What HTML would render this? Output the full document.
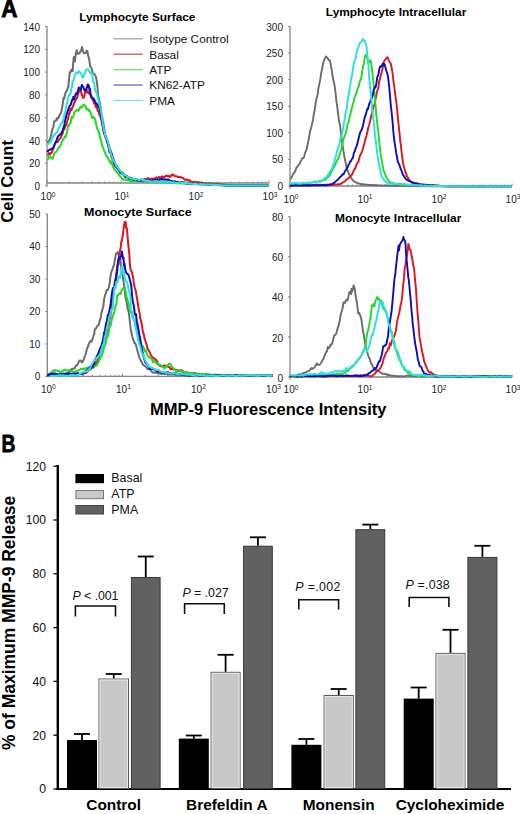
<!DOCTYPE html>
<html><head><meta charset="utf-8"><style>
html,body{margin:0;padding:0;background:#fff;}
svg{display:block;font-family:"Liberation Sans", sans-serif;}
</style></head><body>
<svg width="520" height="814" viewBox="0 0 520 814">
<rect width="520" height="814" fill="#fff"/>
<text x="1.30" y="16.7" font-size="24.0" font-weight="bold" fill="#000" textLength="16.25" lengthAdjust="spacingAndGlyphs" stroke="#000" stroke-width="0.8">A</text>
<text x="79.20" y="20.6" font-size="11.6" font-weight="bold" fill="#000" textLength="116.30" lengthAdjust="spacingAndGlyphs" >Lymphocyte Surface</text>
<text x="325.80" y="16.2" font-size="11.6" font-weight="bold" fill="#000" textLength="140.50" lengthAdjust="spacingAndGlyphs" >Lymphocyte Intracellular</text>
<text x="84.00" y="215.6" font-size="11.6" font-weight="bold" fill="#000" textLength="107.68" lengthAdjust="spacingAndGlyphs" >Monocyte Surface</text>
<text x="335.00" y="222.4" font-size="11.6" font-weight="bold" fill="#000" textLength="126.29" lengthAdjust="spacingAndGlyphs" >Monocyte Intracellular</text>
<text x="0" y="0" font-size="16.6" font-weight="bold" fill="#000" textLength="82.59" lengthAdjust="spacingAndGlyphs" transform="translate(12.6,222.70) rotate(-90)">Cell Count</text>
<text x="150.00" y="415" font-size="16.4" font-weight="bold" fill="#000" textLength="236.54" lengthAdjust="spacingAndGlyphs" >MMP-9 Fluorescence Intensity</text>
<line x1="47" y1="26.5" x2="47" y2="186.5" stroke="#858585" stroke-width="1.3"/>
<line x1="47" y1="183" x2="269" y2="183" stroke="#858585" stroke-width="1.3"/>
<line x1="45" y1="186.0" x2="47" y2="186.0" stroke="#858585" stroke-width="1"/>
<text x="40" y="190.1" font-size="10" text-anchor="end" fill="#222" >0</text>
<line x1="45" y1="163.21428571428572" x2="47" y2="163.21428571428572" stroke="#858585" stroke-width="1"/>
<text x="40" y="167.31" font-size="10" text-anchor="end" fill="#222" >20</text>
<line x1="45" y1="140.42857142857144" x2="47" y2="140.42857142857144" stroke="#858585" stroke-width="1"/>
<text x="40" y="144.53" font-size="10" text-anchor="end" fill="#222" >40</text>
<line x1="45" y1="117.64285714285714" x2="47" y2="117.64285714285714" stroke="#858585" stroke-width="1"/>
<text x="40" y="121.74" font-size="10" text-anchor="end" fill="#222" >60</text>
<line x1="45" y1="94.85714285714286" x2="47" y2="94.85714285714286" stroke="#858585" stroke-width="1"/>
<text x="40" y="98.96" font-size="10" text-anchor="end" fill="#222" >80</text>
<line x1="45" y1="72.07142857142857" x2="47" y2="72.07142857142857" stroke="#858585" stroke-width="1"/>
<text x="40" y="76.17" font-size="10" text-anchor="end" fill="#222" >100</text>
<line x1="45" y1="49.28571428571428" x2="47" y2="49.28571428571428" stroke="#858585" stroke-width="1"/>
<text x="40" y="53.39" font-size="10" text-anchor="end" fill="#222" >120</text>
<line x1="45" y1="26.5" x2="47" y2="26.5" stroke="#858585" stroke-width="1"/>
<text x="40" y="30.6" font-size="10" text-anchor="end" fill="#222" >140</text>
<line x1="47.0" y1="183" x2="47.0" y2="180.5" stroke="#858585" stroke-width="1"/>
<text x="40.6" y="199.9" font-size="10" fill="#222">10<tspan font-size="6.6" dy="-3.3">0</tspan></text>
<line x1="69.27621967913461" y1="183" x2="69.27621967913461" y2="181.5" stroke="#858585" stroke-width="1"/>
<line x1="82.30697284925502" y1="183" x2="82.30697284925502" y2="181.5" stroke="#858585" stroke-width="1"/>
<line x1="91.55243935826923" y1="183" x2="91.55243935826923" y2="181.5" stroke="#858585" stroke-width="1"/>
<line x1="98.72378032086539" y1="183" x2="98.72378032086539" y2="181.5" stroke="#858585" stroke-width="1"/>
<line x1="104.58319252838963" y1="183" x2="104.58319252838963" y2="181.5" stroke="#858585" stroke-width="1"/>
<line x1="109.537254961055" y1="183" x2="109.537254961055" y2="181.5" stroke="#858585" stroke-width="1"/>
<line x1="113.82865903740382" y1="183" x2="113.82865903740382" y2="181.5" stroke="#858585" stroke-width="1"/>
<line x1="117.61394569851004" y1="183" x2="117.61394569851004" y2="181.5" stroke="#858585" stroke-width="1"/>
<line x1="121.0" y1="183" x2="121.0" y2="180.5" stroke="#858585" stroke-width="1"/>
<text x="114.6" y="199.9" font-size="10" fill="#222">10<tspan font-size="6.6" dy="-3.3">1</tspan></text>
<line x1="143.2762196791346" y1="183" x2="143.2762196791346" y2="181.5" stroke="#858585" stroke-width="1"/>
<line x1="156.30697284925503" y1="183" x2="156.30697284925503" y2="181.5" stroke="#858585" stroke-width="1"/>
<line x1="165.55243935826923" y1="183" x2="165.55243935826923" y2="181.5" stroke="#858585" stroke-width="1"/>
<line x1="172.7237803208654" y1="183" x2="172.7237803208654" y2="181.5" stroke="#858585" stroke-width="1"/>
<line x1="178.58319252838965" y1="183" x2="178.58319252838965" y2="181.5" stroke="#858585" stroke-width="1"/>
<line x1="183.537254961055" y1="183" x2="183.537254961055" y2="181.5" stroke="#858585" stroke-width="1"/>
<line x1="187.82865903740384" y1="183" x2="187.82865903740384" y2="181.5" stroke="#858585" stroke-width="1"/>
<line x1="191.61394569851004" y1="183" x2="191.61394569851004" y2="181.5" stroke="#858585" stroke-width="1"/>
<line x1="195.0" y1="183" x2="195.0" y2="180.5" stroke="#858585" stroke-width="1"/>
<text x="188.6" y="199.9" font-size="10" fill="#222">10<tspan font-size="6.6" dy="-3.3">2</tspan></text>
<line x1="217.2762196791346" y1="183" x2="217.2762196791346" y2="181.5" stroke="#858585" stroke-width="1"/>
<line x1="230.30697284925503" y1="183" x2="230.30697284925503" y2="181.5" stroke="#858585" stroke-width="1"/>
<line x1="239.55243935826923" y1="183" x2="239.55243935826923" y2="181.5" stroke="#858585" stroke-width="1"/>
<line x1="246.7237803208654" y1="183" x2="246.7237803208654" y2="181.5" stroke="#858585" stroke-width="1"/>
<line x1="252.58319252838965" y1="183" x2="252.58319252838965" y2="181.5" stroke="#858585" stroke-width="1"/>
<line x1="257.537254961055" y1="183" x2="257.537254961055" y2="181.5" stroke="#858585" stroke-width="1"/>
<line x1="261.82865903740384" y1="183" x2="261.82865903740384" y2="181.5" stroke="#858585" stroke-width="1"/>
<line x1="265.61394569851007" y1="183" x2="265.61394569851007" y2="181.5" stroke="#858585" stroke-width="1"/>
<line x1="269.0" y1="183" x2="269.0" y2="180.5" stroke="#858585" stroke-width="1"/>
<text x="262.6" y="199.9" font-size="10" fill="#222">10<tspan font-size="6.6" dy="-3.3">3</tspan></text>
<line x1="290" y1="26.5" x2="290" y2="188.7" stroke="#858585" stroke-width="1.3"/>
<line x1="290" y1="186" x2="512" y2="186" stroke="#858585" stroke-width="1.3"/>
<line x1="288" y1="186.0" x2="290" y2="186.0" stroke="#858585" stroke-width="1"/>
<text x="283" y="190.0" font-size="10" text-anchor="end" fill="#222" >0</text>
<line x1="288" y1="159.41666666666666" x2="290" y2="159.41666666666666" stroke="#858585" stroke-width="1"/>
<text x="283" y="163.42" font-size="10" text-anchor="end" fill="#222" >50</text>
<line x1="288" y1="132.83333333333334" x2="290" y2="132.83333333333334" stroke="#858585" stroke-width="1"/>
<text x="283" y="136.83" font-size="10" text-anchor="end" fill="#222" >100</text>
<line x1="288" y1="106.25" x2="290" y2="106.25" stroke="#858585" stroke-width="1"/>
<text x="283" y="110.25" font-size="10" text-anchor="end" fill="#222" >150</text>
<line x1="288" y1="79.66666666666667" x2="290" y2="79.66666666666667" stroke="#858585" stroke-width="1"/>
<text x="283" y="83.67" font-size="10" text-anchor="end" fill="#222" >200</text>
<line x1="288" y1="53.08333333333334" x2="290" y2="53.08333333333334" stroke="#858585" stroke-width="1"/>
<text x="283" y="57.08" font-size="10" text-anchor="end" fill="#222" >250</text>
<line x1="288" y1="26.5" x2="290" y2="26.5" stroke="#858585" stroke-width="1"/>
<text x="283" y="30.5" font-size="10" text-anchor="end" fill="#222" >300</text>
<line x1="290.0" y1="186" x2="290.0" y2="183.5" stroke="#858585" stroke-width="1"/>
<text x="283.6" y="202.5" font-size="10" fill="#222">10<tspan font-size="6.6" dy="-3.3">0</tspan></text>
<line x1="312.2762196791346" y1="186" x2="312.2762196791346" y2="184.5" stroke="#858585" stroke-width="1"/>
<line x1="325.30697284925503" y1="186" x2="325.30697284925503" y2="184.5" stroke="#858585" stroke-width="1"/>
<line x1="334.5524393582692" y1="186" x2="334.5524393582692" y2="184.5" stroke="#858585" stroke-width="1"/>
<line x1="341.7237803208654" y1="186" x2="341.7237803208654" y2="184.5" stroke="#858585" stroke-width="1"/>
<line x1="347.58319252838965" y1="186" x2="347.58319252838965" y2="184.5" stroke="#858585" stroke-width="1"/>
<line x1="352.537254961055" y1="186" x2="352.537254961055" y2="184.5" stroke="#858585" stroke-width="1"/>
<line x1="356.82865903740384" y1="186" x2="356.82865903740384" y2="184.5" stroke="#858585" stroke-width="1"/>
<line x1="360.61394569851007" y1="186" x2="360.61394569851007" y2="184.5" stroke="#858585" stroke-width="1"/>
<line x1="364.0" y1="186" x2="364.0" y2="183.5" stroke="#858585" stroke-width="1"/>
<text x="357.6" y="202.5" font-size="10" fill="#222">10<tspan font-size="6.6" dy="-3.3">1</tspan></text>
<line x1="386.2762196791346" y1="186" x2="386.2762196791346" y2="184.5" stroke="#858585" stroke-width="1"/>
<line x1="399.30697284925503" y1="186" x2="399.30697284925503" y2="184.5" stroke="#858585" stroke-width="1"/>
<line x1="408.5524393582692" y1="186" x2="408.5524393582692" y2="184.5" stroke="#858585" stroke-width="1"/>
<line x1="415.7237803208654" y1="186" x2="415.7237803208654" y2="184.5" stroke="#858585" stroke-width="1"/>
<line x1="421.58319252838965" y1="186" x2="421.58319252838965" y2="184.5" stroke="#858585" stroke-width="1"/>
<line x1="426.537254961055" y1="186" x2="426.537254961055" y2="184.5" stroke="#858585" stroke-width="1"/>
<line x1="430.82865903740384" y1="186" x2="430.82865903740384" y2="184.5" stroke="#858585" stroke-width="1"/>
<line x1="434.61394569851007" y1="186" x2="434.61394569851007" y2="184.5" stroke="#858585" stroke-width="1"/>
<line x1="438.0" y1="186" x2="438.0" y2="183.5" stroke="#858585" stroke-width="1"/>
<text x="431.6" y="202.5" font-size="10" fill="#222">10<tspan font-size="6.6" dy="-3.3">2</tspan></text>
<line x1="460.2762196791346" y1="186" x2="460.2762196791346" y2="184.5" stroke="#858585" stroke-width="1"/>
<line x1="473.30697284925503" y1="186" x2="473.30697284925503" y2="184.5" stroke="#858585" stroke-width="1"/>
<line x1="482.5524393582692" y1="186" x2="482.5524393582692" y2="184.5" stroke="#858585" stroke-width="1"/>
<line x1="489.7237803208654" y1="186" x2="489.7237803208654" y2="184.5" stroke="#858585" stroke-width="1"/>
<line x1="495.58319252838965" y1="186" x2="495.58319252838965" y2="184.5" stroke="#858585" stroke-width="1"/>
<line x1="500.537254961055" y1="186" x2="500.537254961055" y2="184.5" stroke="#858585" stroke-width="1"/>
<line x1="504.82865903740384" y1="186" x2="504.82865903740384" y2="184.5" stroke="#858585" stroke-width="1"/>
<line x1="508.61394569851007" y1="186" x2="508.61394569851007" y2="184.5" stroke="#858585" stroke-width="1"/>
<line x1="512.0" y1="186" x2="512.0" y2="183.5" stroke="#858585" stroke-width="1"/>
<text x="505.6" y="202.5" font-size="10" fill="#222">10<tspan font-size="6.6" dy="-3.3">3</tspan></text>
<line x1="47.3" y1="214" x2="47.3" y2="377.0" stroke="#858585" stroke-width="1.3"/>
<line x1="47.3" y1="376.3" x2="272.5" y2="376.3" stroke="#858585" stroke-width="1.3"/>
<line x1="45.3" y1="376.5" x2="47.3" y2="376.5" stroke="#858585" stroke-width="1"/>
<text x="40.3" y="380.4" font-size="10" text-anchor="end" fill="#222" >0</text>
<line x1="45.3" y1="344.0" x2="47.3" y2="344.0" stroke="#858585" stroke-width="1"/>
<text x="40.3" y="347.9" font-size="10" text-anchor="end" fill="#222" >10</text>
<line x1="45.3" y1="311.5" x2="47.3" y2="311.5" stroke="#858585" stroke-width="1"/>
<text x="40.3" y="315.4" font-size="10" text-anchor="end" fill="#222" >20</text>
<line x1="45.3" y1="279.0" x2="47.3" y2="279.0" stroke="#858585" stroke-width="1"/>
<text x="40.3" y="282.9" font-size="10" text-anchor="end" fill="#222" >30</text>
<line x1="45.3" y1="246.5" x2="47.3" y2="246.5" stroke="#858585" stroke-width="1"/>
<text x="40.3" y="250.4" font-size="10" text-anchor="end" fill="#222" >40</text>
<line x1="45.3" y1="214.0" x2="47.3" y2="214.0" stroke="#858585" stroke-width="1"/>
<text x="40.3" y="217.9" font-size="10" text-anchor="end" fill="#222" >50</text>
<line x1="47.3" y1="376.3" x2="47.3" y2="373.8" stroke="#858585" stroke-width="1"/>
<text x="40.9" y="392.5" font-size="10" fill="#222">10<tspan font-size="6.6" dy="-3.3">0</tspan></text>
<line x1="69.89731834117619" y1="376.3" x2="69.89731834117619" y2="374.8" stroke="#858585" stroke-width="1"/>
<line x1="83.11590218762265" y1="376.3" x2="83.11590218762265" y2="374.8" stroke="#858585" stroke-width="1"/>
<line x1="92.49463668235236" y1="376.3" x2="92.49463668235236" y2="374.8" stroke="#858585" stroke-width="1"/>
<line x1="99.76934832549048" y1="376.3" x2="99.76934832549048" y2="374.8" stroke="#858585" stroke-width="1"/>
<line x1="105.71322052879884" y1="376.3" x2="105.71322052879884" y2="374.8" stroke="#858585" stroke-width="1"/>
<line x1="110.73869287040354" y1="376.3" x2="110.73869287040354" y2="374.8" stroke="#858585" stroke-width="1"/>
<line x1="115.09195502352856" y1="376.3" x2="115.09195502352856" y2="374.8" stroke="#858585" stroke-width="1"/>
<line x1="118.93180437524532" y1="376.3" x2="118.93180437524532" y2="374.8" stroke="#858585" stroke-width="1"/>
<line x1="122.36666666666666" y1="376.3" x2="122.36666666666666" y2="373.8" stroke="#858585" stroke-width="1"/>
<text x="116.0" y="392.5" font-size="10" fill="#222">10<tspan font-size="6.6" dy="-3.3">1</tspan></text>
<line x1="144.96398500784284" y1="376.3" x2="144.96398500784284" y2="374.8" stroke="#858585" stroke-width="1"/>
<line x1="158.18256885428931" y1="376.3" x2="158.18256885428931" y2="374.8" stroke="#858585" stroke-width="1"/>
<line x1="167.56130334901903" y1="376.3" x2="167.56130334901903" y2="374.8" stroke="#858585" stroke-width="1"/>
<line x1="174.83601499215715" y1="376.3" x2="174.83601499215715" y2="374.8" stroke="#858585" stroke-width="1"/>
<line x1="180.7798871954655" y1="376.3" x2="180.7798871954655" y2="374.8" stroke="#858585" stroke-width="1"/>
<line x1="185.80535953707022" y1="376.3" x2="185.80535953707022" y2="374.8" stroke="#858585" stroke-width="1"/>
<line x1="190.15862169019522" y1="376.3" x2="190.15862169019522" y2="374.8" stroke="#858585" stroke-width="1"/>
<line x1="193.99847104191198" y1="376.3" x2="193.99847104191198" y2="374.8" stroke="#858585" stroke-width="1"/>
<line x1="197.43333333333334" y1="376.3" x2="197.43333333333334" y2="373.8" stroke="#858585" stroke-width="1"/>
<text x="191.0" y="392.5" font-size="10" fill="#222">10<tspan font-size="6.6" dy="-3.3">2</tspan></text>
<line x1="220.03065167450953" y1="376.3" x2="220.03065167450953" y2="374.8" stroke="#858585" stroke-width="1"/>
<line x1="233.249235520956" y1="376.3" x2="233.249235520956" y2="374.8" stroke="#858585" stroke-width="1"/>
<line x1="242.62797001568572" y1="376.3" x2="242.62797001568572" y2="374.8" stroke="#858585" stroke-width="1"/>
<line x1="249.9026816588238" y1="376.3" x2="249.9026816588238" y2="374.8" stroke="#858585" stroke-width="1"/>
<line x1="255.84655386213217" y1="376.3" x2="255.84655386213217" y2="374.8" stroke="#858585" stroke-width="1"/>
<line x1="260.8720262037369" y1="376.3" x2="260.8720262037369" y2="374.8" stroke="#858585" stroke-width="1"/>
<line x1="265.2252883568619" y1="376.3" x2="265.2252883568619" y2="374.8" stroke="#858585" stroke-width="1"/>
<line x1="269.0651377085787" y1="376.3" x2="269.0651377085787" y2="374.8" stroke="#858585" stroke-width="1"/>
<line x1="272.5" y1="376.3" x2="272.5" y2="373.8" stroke="#858585" stroke-width="1"/>
<text x="266.1" y="392.5" font-size="10" fill="#222">10<tspan font-size="6.6" dy="-3.3">3</tspan></text>
<line x1="290" y1="216.7" x2="290" y2="379.4" stroke="#858585" stroke-width="1.3"/>
<line x1="290" y1="377" x2="512" y2="377" stroke="#858585" stroke-width="1.3"/>
<line x1="288" y1="377.0" x2="290" y2="377.0" stroke="#858585" stroke-width="1"/>
<text x="283" y="381.6" font-size="10" text-anchor="end" fill="#222" >0</text>
<line x1="288" y1="336.925" x2="290" y2="336.925" stroke="#858585" stroke-width="1"/>
<text x="283" y="341.53" font-size="10" text-anchor="end" fill="#222" >20</text>
<line x1="288" y1="296.85" x2="290" y2="296.85" stroke="#858585" stroke-width="1"/>
<text x="283" y="301.45" font-size="10" text-anchor="end" fill="#222" >40</text>
<line x1="288" y1="256.775" x2="290" y2="256.775" stroke="#858585" stroke-width="1"/>
<text x="283" y="261.38" font-size="10" text-anchor="end" fill="#222" >60</text>
<line x1="288" y1="216.7" x2="290" y2="216.7" stroke="#858585" stroke-width="1"/>
<text x="283" y="221.3" font-size="10" text-anchor="end" fill="#222" >80</text>
<line x1="290.0" y1="377" x2="290.0" y2="374.5" stroke="#858585" stroke-width="1"/>
<text x="283.6" y="393.3" font-size="10" fill="#222">10<tspan font-size="6.6" dy="-3.3">0</tspan></text>
<line x1="312.2762196791346" y1="377" x2="312.2762196791346" y2="375.5" stroke="#858585" stroke-width="1"/>
<line x1="325.30697284925503" y1="377" x2="325.30697284925503" y2="375.5" stroke="#858585" stroke-width="1"/>
<line x1="334.5524393582692" y1="377" x2="334.5524393582692" y2="375.5" stroke="#858585" stroke-width="1"/>
<line x1="341.7237803208654" y1="377" x2="341.7237803208654" y2="375.5" stroke="#858585" stroke-width="1"/>
<line x1="347.58319252838965" y1="377" x2="347.58319252838965" y2="375.5" stroke="#858585" stroke-width="1"/>
<line x1="352.537254961055" y1="377" x2="352.537254961055" y2="375.5" stroke="#858585" stroke-width="1"/>
<line x1="356.82865903740384" y1="377" x2="356.82865903740384" y2="375.5" stroke="#858585" stroke-width="1"/>
<line x1="360.61394569851007" y1="377" x2="360.61394569851007" y2="375.5" stroke="#858585" stroke-width="1"/>
<line x1="364.0" y1="377" x2="364.0" y2="374.5" stroke="#858585" stroke-width="1"/>
<text x="357.6" y="393.3" font-size="10" fill="#222">10<tspan font-size="6.6" dy="-3.3">1</tspan></text>
<line x1="386.2762196791346" y1="377" x2="386.2762196791346" y2="375.5" stroke="#858585" stroke-width="1"/>
<line x1="399.30697284925503" y1="377" x2="399.30697284925503" y2="375.5" stroke="#858585" stroke-width="1"/>
<line x1="408.5524393582692" y1="377" x2="408.5524393582692" y2="375.5" stroke="#858585" stroke-width="1"/>
<line x1="415.7237803208654" y1="377" x2="415.7237803208654" y2="375.5" stroke="#858585" stroke-width="1"/>
<line x1="421.58319252838965" y1="377" x2="421.58319252838965" y2="375.5" stroke="#858585" stroke-width="1"/>
<line x1="426.537254961055" y1="377" x2="426.537254961055" y2="375.5" stroke="#858585" stroke-width="1"/>
<line x1="430.82865903740384" y1="377" x2="430.82865903740384" y2="375.5" stroke="#858585" stroke-width="1"/>
<line x1="434.61394569851007" y1="377" x2="434.61394569851007" y2="375.5" stroke="#858585" stroke-width="1"/>
<line x1="438.0" y1="377" x2="438.0" y2="374.5" stroke="#858585" stroke-width="1"/>
<text x="431.6" y="393.3" font-size="10" fill="#222">10<tspan font-size="6.6" dy="-3.3">2</tspan></text>
<line x1="460.2762196791346" y1="377" x2="460.2762196791346" y2="375.5" stroke="#858585" stroke-width="1"/>
<line x1="473.30697284925503" y1="377" x2="473.30697284925503" y2="375.5" stroke="#858585" stroke-width="1"/>
<line x1="482.5524393582692" y1="377" x2="482.5524393582692" y2="375.5" stroke="#858585" stroke-width="1"/>
<line x1="489.7237803208654" y1="377" x2="489.7237803208654" y2="375.5" stroke="#858585" stroke-width="1"/>
<line x1="495.58319252838965" y1="377" x2="495.58319252838965" y2="375.5" stroke="#858585" stroke-width="1"/>
<line x1="500.537254961055" y1="377" x2="500.537254961055" y2="375.5" stroke="#858585" stroke-width="1"/>
<line x1="504.82865903740384" y1="377" x2="504.82865903740384" y2="375.5" stroke="#858585" stroke-width="1"/>
<line x1="508.61394569851007" y1="377" x2="508.61394569851007" y2="375.5" stroke="#858585" stroke-width="1"/>
<line x1="512.0" y1="377" x2="512.0" y2="374.5" stroke="#858585" stroke-width="1"/>
<text x="505.6" y="393.3" font-size="10" fill="#222">10<tspan font-size="6.6" dy="-3.3">3</tspan></text>
<line x1="113.5" y1="38.8" x2="142.6" y2="38.8" stroke="#9a9a9a" stroke-width="1.2"/>
<text x="149.3" y="43.099999999999994" font-size="11.8" text-anchor="start" fill="#111" >Isotype Control</text>
<line x1="113.5" y1="54.2" x2="142.6" y2="54.2" stroke="#d04452" stroke-width="1.2"/>
<text x="149.3" y="58.5" font-size="11.8" text-anchor="start" fill="#111" >Basal</text>
<line x1="113.5" y1="69.7" x2="142.6" y2="69.7" stroke="#6fd36f" stroke-width="1.2"/>
<text x="149.3" y="74.0" font-size="11.8" text-anchor="start" fill="#111" >ATP</text>
<line x1="113.5" y1="85.0" x2="142.6" y2="85.0" stroke="#5a5ad6" stroke-width="1.2"/>
<text x="149.3" y="89.3" font-size="11.8" text-anchor="start" fill="#111" >KN62-ATP</text>
<line x1="113.5" y1="100.5" x2="142.6" y2="100.5" stroke="#7fdede" stroke-width="1.2"/>
<text x="149.3" y="104.8" font-size="11.8" text-anchor="start" fill="#111" >PMA</text>
<path d="M47.0,142.6 L47.9,142.3 L48.8,141.1 L49.7,139.6 L50.6,136.8 L51.5,133.3 L52.4,129.3 L53.3,127.3 L54.2,121.3 L55.1,121.2 L56.0,120.4 L56.9,118.2 L57.2,119.7 L57.8,117.8 L58.7,117.6 L59.6,114.9 L60.5,113.6 L61.4,111.3 L62.3,106.7 L63.2,100.5 L63.5,98.1 L64.1,98.7 L65.0,94.4 L65.9,91.9 L66.8,90.9 L67.7,88.2 L68.2,87.7 L68.6,83.9 L69.5,74.7 L69.8,72.2 L70.4,72.7 L71.3,69.8 L72.2,71.0 L72.7,71.1 L73.1,64.2 L73.8,56.9 L74.4,60.1 L74.9,61.5 L75.8,53.5 L76.7,50.3 L77.6,53.7 L78.5,53.8 L79.4,53.3 L80.0,52.4 L81.2,50.1 L82.1,46.9 L83.0,51.8 L83.9,53.2 L84.6,53.1 L85.7,53.2 L86.6,50.6 L87.3,51.0 L88.2,55.7 L89.3,60.1 L90.2,66.5 L91.1,67.2 L92.0,70.1 L92.9,73.6 L93.5,73.4 L94.7,74.4 L95.6,75.9 L96.5,79.6 L97.4,85.8 L98.2,95.5 L99.2,100.2 L100.1,104.4 L100.6,107.3 L101.0,110.2 L101.9,117.6 L102.2,116.6 L102.8,121.6 L103.7,124.8 L104.6,131.4 L105.5,135.8 L106.4,138.0 L107.3,140.1 L107.8,142.0 L108.2,143.3 L109.1,145.6 L110.0,149.5 L110.8,151.0 L111.8,153.5 L112.7,156.7 L113.6,159.4 L114.5,162.0 L115.4,163.8 L116.3,165.7 L117.2,166.2 L118.1,169.0 L119.0,169.6 L119.9,170.6 L120.8,172.4 L121.7,173.6 L122.6,174.1 L123.5,175.1 L124.4,175.6 L125.3,177.6 L126.2,177.0 L127.1,176.3 L128.0,176.8 L128.9,177.6 L129.8,177.6 L130.7,178.7 L131.3,178.9 L132.5,180.1 L133.4,180.3 L134.3,179.2 L135.2,180.0 L136.1,179.6 L137.0,180.5 L137.9,180.4 L138.8,180.5 L139.7,180.0 L140.6,180.7 L141.5,180.7 L142.4,179.8 L143.3,180.2 L144.2,180.2 L145.1,180.6 L146.0,180.5 L146.9,181.4 L147.8,180.7 L148.7,180.8 L149.6,181.0 L150.0,180.6 L150.5,180.7 L151.4,180.6 L152.3,180.8 L153.2,180.6 L154.1,180.9 L155.0,181.1 L155.9,181.2 L156.8,181.3 L157.7,181.2 L158.6,181.4 L159.5,181.2 L160.4,181.4 L161.3,181.3 L162.2,181.4 L163.1,181.3 L164.0,181.8 L164.9,181.4 L165.8,181.6 L166.7,181.8 L167.6,181.8 L168.5,181.6 L169.4,181.3 L170.3,182.0 L171.2,182.1 L172.1,181.8 L173.0,182.3 L173.9,182.1 L174.8,182.0 L175.7,182.2 L176.6,182.2 L177.5,182.2 L178.4,181.7 L179.3,182.4 L180.2,182.0 L181.1,181.9 L182.0,182.6 L182.9,182.3 L183.8,182.4 L184.7,182.2 L185.6,182.4 L186.5,182.6 L187.4,182.5 L188.3,182.7 L189.2,182.3 L190.1,182.2 L191.0,182.5 L191.9,182.8 L192.8,182.8 L193.7,182.7 L194.6,182.9 L195.5,182.4 L196.4,182.5 L197.3,182.7 L198.2,182.4 L199.1,182.8 L200.0,182.9 L200.9,183.2 L201.8,182.9 L202.7,183.0 L203.6,183.3 L204.5,182.9 L205.4,183.8 L206.3,183.2 L207.2,183.2 L208.1,183.4 L209.0,183.3 L209.9,183.1 L210.8,183.6 L211.7,183.8 L212.6,183.7 L213.5,183.9 L214.4,184.0 L215.3,183.8 L216.2,184.1 L217.1,184.1 L218.0,184.1 L218.9,184.2 L219.8,184.4 L220.7,184.4 L221.6,184.6 L222.5,184.5 L223.4,184.5 L224.3,184.6 L225.2,184.7 L226.1,184.8 L227.0,184.9 L227.9,185.1 L228.8,185.0 L229.7,185.0 L230.6,185.1 L231.5,185.1 L232.4,185.2 L233.3,185.2 L234.2,185.3 L235.1,185.3 L236.0,185.4 L236.9,185.4 L237.8,185.5 L238.7,185.5 L239.6,185.5 L240.0,185.5 L240.5,185.5 L241.4,185.5 L242.3,185.6 L243.2,185.6 L244.1,185.6 L245.0,185.6 L245.9,185.6 L246.8,185.6 L247.7,185.6 L248.6,185.6 L249.5,185.6 L250.4,185.6 L251.3,185.6 L252.2,185.6 L253.1,185.6 L254.0,185.6 L254.9,185.6 L255.8,185.6 L256.7,185.6 L257.6,185.6 L258.5,185.6 L259.4,185.6 L260.3,185.6 L261.2,185.6 L262.1,185.6 L263.0,185.6 L263.9,185.6 L264.8,185.6 L265.7,185.6 L266.6,185.6 L267.5,185.6 L268.4,185.6 L269.0,185.6" fill="none" stroke="#6c6c6c" stroke-width="2.0" stroke-linejoin="round"/>
<path d="M47.3,154.1 L48.2,154.5 L49.1,153.0 L50.0,154.4 L50.8,153.0 L51.8,152.7 L52.7,150.1 L53.6,147.7 L54.5,145.0 L55.4,142.7 L56.3,142.2 L57.2,142.2 L58.1,141.4 L59.0,139.3 L59.9,138.8 L60.8,137.4 L61.2,136.8 L61.7,135.2 L62.6,133.8 L63.5,129.5 L64.0,127.7 L64.4,129.2 L65.3,125.2 L66.2,125.4 L67.0,121.5 L68.0,119.2 L68.9,113.1 L69.3,114.6 L69.8,111.9 L70.7,108.5 L71.6,109.9 L72.5,107.5 L73.4,105.4 L74.0,103.0 L75.2,101.1 L76.1,99.0 L77.0,97.9 L77.4,97.0 L77.9,94.0 L78.8,91.8 L79.6,90.7 L80.6,90.5 L81.5,93.4 L82.4,96.3 L83.0,97.9 L84.2,97.1 L85.1,91.7 L86.0,91.0 L86.5,89.4 L86.9,92.6 L87.8,91.2 L88.7,93.4 L89.6,93.2 L90.5,95.2 L91.2,97.6 L92.3,98.8 L93.2,101.2 L93.5,99.7 L94.1,103.5 L95.0,103.0 L95.9,107.3 L96.8,106.7 L97.7,110.9 L98.6,110.9 L99.5,115.4 L100.4,116.3 L101.3,119.9 L102.2,124.5 L103.1,128.6 L103.8,132.0 L104.9,136.0 L105.8,138.5 L106.7,140.4 L107.3,141.2 L108.5,145.4 L109.4,148.9 L110.2,150.5 L111.2,156.1 L112.1,158.5 L113.0,161.2 L113.9,164.2 L114.8,166.2 L115.7,166.9 L116.5,166.8 L117.5,168.1 L118.4,169.3 L119.3,169.8 L120.2,171.6 L121.1,172.3 L122.0,172.1 L122.9,173.9 L123.8,174.5 L124.7,176.4 L125.6,177.0 L126.5,176.7 L127.4,177.1 L128.3,177.9 L129.2,178.3 L130.1,179.3 L130.4,179.1 L131.0,178.9 L131.9,179.4 L132.8,178.7 L133.7,179.6 L134.6,179.8 L135.5,179.6 L136.4,179.6 L137.3,180.1 L138.2,180.6 L139.1,180.1 L140.0,179.7 L140.9,180.3 L141.8,179.4 L142.7,180.1 L143.6,179.8 L144.5,179.9 L145.0,179.1 L145.4,179.6 L146.3,179.0 L147.2,178.4 L148.1,178.2 L149.0,178.7 L149.9,179.1 L150.8,178.7 L151.7,178.7 L152.6,178.6 L153.5,179.0 L154.4,178.7 L155.0,178.4 L156.2,177.4 L157.1,177.9 L158.0,177.8 L158.9,176.8 L159.8,177.9 L160.7,177.3 L161.6,176.8 L162.5,176.3 L163.4,177.2 L164.3,177.2 L165.2,176.4 L166.1,175.5 L167.0,176.3 L167.9,175.8 L168.8,176.0 L169.7,177.1 L170.6,176.4 L171.5,175.4 L172.0,174.5 L172.4,175.1 L173.3,174.5 L174.2,176.1 L175.1,176.2 L176.0,176.2 L176.9,176.3 L177.8,177.1 L178.7,176.9 L179.6,176.8 L180.5,177.4 L181.4,177.3 L182.3,177.7 L183.2,178.0 L184.1,178.9 L185.0,179.7 L185.9,179.5 L186.8,179.9 L187.7,179.6 L188.6,180.2 L189.5,180.5 L190.4,180.8 L191.3,182.0 L192.2,182.1 L193.1,182.0 L194.0,182.1 L194.9,182.3 L195.8,182.0 L196.7,182.5 L197.6,182.2 L198.5,182.5 L199.4,182.5 L200.3,182.7 L201.2,182.6 L202.1,182.8 L203.0,183.1 L203.9,183.3 L204.8,183.4 L205.7,183.4 L206.6,183.8 L207.5,183.7 L208.4,183.6 L209.3,183.9 L210.2,183.7 L211.1,184.1 L212.0,184.1 L212.9,184.0 L213.8,184.3 L214.7,184.3 L215.6,183.9 L216.5,184.2 L217.4,184.3 L218.3,184.2 L219.2,184.4 L220.1,184.4 L221.0,184.6 L221.9,184.8 L222.8,185.0 L223.7,185.0 L224.6,185.1 L225.5,185.1 L226.4,185.2 L227.3,185.2 L228.2,185.3 L229.1,185.4 L230.0,185.5 L230.9,185.5 L231.8,185.5 L232.7,185.5 L233.6,185.5 L234.5,185.6 L235.0,185.6 L235.4,185.6 L236.3,185.6 L237.2,185.6 L238.1,185.6 L239.0,185.6 L239.9,185.6 L240.8,185.6 L241.7,185.6 L242.6,185.6 L243.5,185.6 L244.4,185.6 L245.3,185.6 L246.2,185.6 L247.1,185.6 L248.0,185.6 L248.9,185.6 L249.8,185.6 L250.7,185.6 L251.6,185.6 L252.5,185.6 L253.4,185.6 L254.3,185.6 L255.2,185.6 L256.1,185.6 L257.0,185.6 L257.9,185.6 L258.8,185.6 L259.7,185.6 L260.6,185.6 L261.5,185.6 L262.4,185.6 L263.3,185.6 L264.2,185.6 L265.1,185.6 L266.0,185.6 L266.9,185.6 L267.8,185.6 L268.7,185.6 L269.0,185.6" fill="none" stroke="#e0141e" stroke-width="2.0" stroke-linejoin="round"/>
<path d="M47.3,158.3 L48.2,159.2 L49.1,156.6 L50.0,156.5 L50.9,157.4 L51.8,158.4 L52.7,158.7 L53.6,155.7 L54.5,153.0 L55.4,152.2 L56.3,151.8 L57.2,150.3 L58.1,148.8 L59.0,147.3 L59.9,146.6 L60.8,144.6 L61.2,144.5 L61.7,142.0 L62.6,140.5 L63.5,138.6 L64.4,137.8 L65.3,136.0 L65.8,136.9 L66.2,134.9 L67.1,132.1 L68.0,125.9 L68.7,126.0 L69.8,123.4 L70.7,122.7 L71.6,116.8 L72.5,118.0 L73.4,116.0 L74.3,112.3 L75.1,111.5 L76.1,110.3 L77.0,110.3 L77.9,110.0 L78.5,111.0 L79.7,107.6 L80.6,107.8 L80.9,106.9 L81.5,107.8 L82.4,105.5 L83.0,105.8 L84.2,104.9 L85.1,106.0 L86.0,106.6 L86.5,109.7 L86.9,109.2 L87.8,109.0 L88.7,109.8 L89.0,111.1 L89.6,110.6 L90.5,112.3 L91.2,114.9 L92.3,118.2 L93.2,116.6 L93.5,116.7 L94.1,117.4 L95.0,118.9 L95.8,122.7 L96.8,127.5 L97.7,129.5 L98.6,131.7 L99.2,133.1 L100.4,138.8 L101.3,141.2 L102.2,145.4 L102.7,147.2 L103.1,147.6 L104.0,150.2 L104.9,152.1 L105.8,154.4 L106.2,155.9 L106.7,155.8 L107.6,157.4 L108.5,159.4 L109.4,160.6 L110.3,162.6 L110.8,161.2 L111.2,163.6 L112.1,164.3 L113.0,166.3 L113.9,168.2 L114.8,170.0 L115.4,170.6 L116.6,171.5 L117.5,173.2 L118.4,173.9 L119.3,175.2 L120.0,176.4 L121.1,177.2 L122.0,179.0 L122.9,179.4 L123.8,180.0 L124.6,179.5 L125.6,179.5 L126.5,179.9 L127.4,180.3 L128.3,180.2 L129.2,180.7 L130.1,180.9 L131.0,181.4 L131.5,180.9 L131.9,181.3 L132.8,180.9 L133.7,180.9 L134.6,180.9 L135.5,180.8 L136.4,181.2 L137.3,181.6 L138.2,181.4 L139.1,181.3 L140.0,181.3 L140.9,180.8 L141.8,181.1 L142.7,181.3 L143.6,181.3 L144.5,181.7 L145.0,181.0 L145.4,181.6 L146.3,181.3 L147.2,181.5 L148.1,181.2 L149.0,181.1 L149.9,181.6 L150.8,181.6 L151.7,181.9 L152.6,182.0 L153.5,182.0 L154.4,182.0 L155.3,181.8 L156.2,181.9 L157.1,181.4 L158.0,181.9 L158.9,181.6 L159.8,182.2 L160.7,182.4 L161.6,181.9 L162.5,182.4 L163.4,182.3 L164.3,182.2 L165.2,182.7 L166.1,182.6 L167.0,182.5 L167.9,182.8 L168.8,182.8 L169.7,182.8 L170.6,182.6 L171.5,182.9 L172.4,183.0 L173.3,182.7 L174.2,182.9 L175.1,183.1 L176.0,182.9 L176.9,183.3 L177.8,183.0 L178.7,182.7 L179.6,182.8 L180.5,183.0 L181.4,183.6 L182.3,183.3 L183.2,183.4 L184.1,183.5 L185.0,183.4 L185.9,183.8 L186.8,183.3 L187.7,183.5 L188.6,183.4 L189.5,183.5 L190.4,183.2 L191.3,183.8 L192.2,183.6 L193.1,183.7 L194.0,183.4 L194.9,183.4 L195.8,183.6 L196.7,183.8 L197.6,184.0 L198.5,184.2 L199.4,184.2 L200.0,184.1 L201.2,184.2 L202.1,184.1 L203.0,183.9 L203.9,184.1 L204.8,184.3 L205.7,184.3 L206.6,184.3 L207.5,184.4 L208.4,184.5 L209.3,184.4 L210.2,184.5 L211.1,184.6 L212.0,184.7 L212.9,184.4 L213.8,184.6 L214.7,184.7 L215.6,184.7 L216.5,184.9 L217.4,184.9 L218.3,185.0 L219.2,185.0 L220.1,185.1 L221.0,185.1 L221.9,185.2 L222.8,185.2 L223.7,185.3 L224.6,185.3 L225.5,185.3 L226.4,185.4 L227.3,185.4 L228.2,185.5 L229.1,185.5 L230.0,185.5 L230.9,185.5 L231.8,185.6 L232.7,185.6 L233.6,185.6 L234.5,185.6 L235.4,185.6 L236.3,185.6 L237.2,185.6 L238.1,185.6 L239.0,185.6 L239.9,185.6 L240.8,185.6 L241.7,185.6 L242.6,185.6 L243.5,185.6 L244.4,185.6 L245.3,185.6 L246.2,185.6 L247.1,185.6 L248.0,185.6 L248.9,185.6 L249.8,185.6 L250.7,185.6 L251.6,185.6 L252.5,185.6 L253.4,185.6 L254.3,185.6 L255.2,185.6 L256.1,185.6 L257.0,185.6 L257.9,185.6 L258.8,185.6 L259.7,185.6 L260.6,185.6 L261.5,185.6 L262.4,185.6 L263.3,185.6 L264.2,185.6 L265.1,185.6 L266.0,185.6 L266.9,185.6 L267.8,185.6 L268.7,185.6 L269.0,185.6" fill="none" stroke="#24d824" stroke-width="2.0" stroke-linejoin="round"/>
<path d="M47.3,152.1 L48.2,150.6 L49.1,150.0 L50.0,149.7 L50.9,148.9 L51.8,149.3 L52.7,147.9 L53.6,147.5 L54.5,144.6 L55.4,142.5 L56.3,140.9 L57.2,138.2 L58.1,136.2 L59.0,135.4 L59.9,134.6 L60.8,134.5 L61.2,133.5 L61.7,132.2 L62.6,131.0 L63.5,127.9 L64.4,125.1 L65.3,118.2 L65.8,118.6 L66.2,115.7 L67.1,112.7 L68.0,110.3 L68.7,108.3 L69.8,105.6 L70.7,105.1 L71.6,101.6 L72.5,99.2 L72.8,100.2 L73.4,96.7 L74.3,99.1 L75.1,95.6 L76.1,93.4 L76.8,93.9 L77.9,91.1 L78.8,87.6 L79.7,88.4 L80.6,89.3 L80.9,90.0 L81.5,86.1 L82.0,84.9 L82.4,86.2 L83.3,86.8 L84.2,89.8 L85.1,90.8 L86.0,89.3 L86.9,87.7 L87.7,84.4 L88.7,85.3 L89.6,90.3 L90.0,89.0 L90.5,93.7 L91.4,96.9 L92.3,97.3 L93.2,98.8 L93.5,99.3 L94.1,99.1 L95.0,101.5 L95.8,102.9 L96.8,104.3 L97.7,105.5 L98.0,104.2 L98.6,107.2 L99.5,108.2 L100.4,112.0 L101.3,116.9 L102.2,122.0 L103.1,127.6 L103.8,131.5 L104.9,134.6 L105.8,136.8 L106.7,139.5 L107.3,142.3 L108.5,146.4 L109.4,151.7 L110.2,152.8 L111.2,153.1 L112.1,156.2 L113.0,160.1 L113.9,161.6 L114.8,163.7 L115.7,165.0 L116.5,167.4 L117.5,168.4 L118.4,169.8 L119.3,171.1 L120.2,172.7 L121.1,172.8 L122.0,172.2 L122.9,173.5 L123.8,174.3 L124.7,175.1 L125.6,176.2 L126.5,176.6 L127.4,176.3 L128.3,178.2 L129.2,178.2 L130.1,177.9 L130.4,177.8 L131.0,178.4 L131.9,178.4 L132.8,179.4 L133.7,179.5 L134.6,179.5 L135.5,179.3 L136.0,179.5 L136.4,180.1 L137.3,180.4 L138.2,180.4 L139.1,180.4 L140.0,180.2 L140.9,180.7 L141.8,180.8 L142.7,179.8 L143.6,180.4 L144.5,179.5 L145.4,180.1 L146.3,180.3 L147.2,179.9 L148.1,180.0 L149.0,180.5 L149.9,180.8 L150.8,180.5 L151.7,181.0 L152.6,180.3 L153.5,180.9 L154.4,180.2 L155.3,179.9 L156.2,179.7 L157.1,179.5 L158.0,179.9 L158.9,179.9 L159.8,179.4 L160.7,179.2 L161.6,178.9 L162.5,179.1 L163.4,179.4 L164.3,179.4 L165.2,179.5 L166.0,179.6 L167.0,179.8 L167.9,179.5 L168.8,179.7 L169.7,180.6 L170.6,181.0 L171.5,181.1 L172.4,181.9 L173.3,181.4 L174.2,181.5 L175.1,181.3 L176.0,182.1 L176.9,182.1 L177.7,182.5 L178.7,182.6 L179.6,182.6 L180.5,182.7 L181.4,182.9 L182.3,182.6 L183.2,182.7 L184.1,182.8 L185.0,183.1 L185.9,183.2 L186.8,183.5 L187.7,183.2 L188.6,183.6 L189.5,183.4 L190.4,183.7 L191.3,183.5 L192.2,183.7 L193.1,183.5 L194.0,183.6 L194.9,183.9 L195.8,184.0 L196.7,183.9 L197.6,183.8 L198.5,183.7 L199.4,184.3 L200.0,184.0 L201.2,184.3 L202.1,184.1 L203.0,184.2 L203.9,184.3 L204.8,184.4 L205.7,184.5 L206.6,184.4 L207.5,184.6 L208.4,184.8 L209.3,184.6 L210.2,184.7 L211.1,184.6 L212.0,184.7 L212.9,184.8 L213.8,184.9 L214.7,184.8 L215.6,184.9 L216.5,185.0 L217.4,185.0 L218.3,185.0 L219.2,185.1 L220.1,185.1 L221.0,185.2 L221.9,185.3 L222.8,185.3 L223.7,185.3 L224.6,185.4 L225.5,185.4 L226.4,185.4 L227.3,185.5 L228.2,185.5 L229.1,185.6 L230.0,185.6 L230.9,185.6 L231.8,185.6 L232.7,185.6 L233.6,185.6 L234.5,185.6 L235.4,185.6 L236.3,185.6 L237.2,185.6 L238.1,185.6 L239.0,185.6 L239.9,185.6 L240.8,185.6 L241.7,185.6 L242.6,185.6 L243.5,185.6 L244.4,185.6 L245.3,185.6 L246.2,185.6 L247.1,185.6 L248.0,185.6 L248.9,185.6 L249.8,185.6 L250.7,185.6 L251.6,185.6 L252.5,185.6 L253.4,185.6 L254.3,185.6 L255.2,185.6 L256.1,185.6 L257.0,185.6 L257.9,185.6 L258.8,185.6 L259.7,185.6 L260.6,185.6 L261.5,185.6 L262.4,185.6 L263.3,185.6 L264.2,185.6 L265.1,185.6 L266.0,185.6 L266.9,185.6 L267.8,185.6 L268.7,185.6 L269.0,185.6" fill="none" stroke="#0c0cc0" stroke-width="2.0" stroke-linejoin="round"/>
<path d="M47.3,144.8 L48.2,144.3 L49.1,143.0 L50.0,142.1 L50.8,142.5 L51.8,139.6 L52.7,137.3 L53.6,135.0 L54.2,135.4 L55.4,133.7 L56.3,133.2 L57.2,131.5 L57.7,130.8 L58.1,129.7 L59.0,127.7 L59.9,126.2 L60.8,123.9 L61.7,122.8 L62.6,122.8 L63.5,119.4 L64.4,113.9 L65.3,112.6 L65.8,108.8 L66.2,105.6 L67.1,103.0 L67.6,100.0 L68.0,98.2 L68.9,96.0 L69.3,94.6 L69.8,94.5 L70.7,93.2 L71.0,90.2 L71.6,87.5 L72.0,87.2 L72.5,81.5 L73.4,80.4 L74.3,77.2 L75.0,74.6 L76.1,72.6 L77.0,73.2 L77.9,73.2 L78.5,71.4 L79.7,72.0 L80.6,73.2 L81.5,74.3 L82.4,77.4 L83.0,77.4 L84.2,74.7 L85.1,73.5 L85.4,71.2 L86.0,69.4 L86.9,69.5 L87.8,69.4 L88.3,69.4 L88.7,70.8 L89.6,71.3 L90.5,73.5 L91.2,72.5 L92.3,73.9 L93.2,82.0 L93.5,82.3 L94.1,82.4 L95.0,89.7 L95.8,91.6 L96.8,93.1 L97.7,97.4 L98.6,100.2 L99.2,104.6 L100.4,107.7 L101.3,113.2 L102.2,119.2 L103.1,125.7 L103.8,129.3 L104.9,134.1 L105.8,137.2 L106.7,139.2 L107.3,139.8 L108.5,144.4 L109.4,149.1 L110.2,151.4 L111.2,154.7 L112.1,156.7 L113.0,160.8 L113.9,161.6 L114.8,161.9 L115.7,164.9 L116.5,166.7 L117.5,166.6 L118.4,168.6 L119.3,169.6 L120.2,171.0 L121.1,171.7 L122.0,172.6 L122.9,173.6 L123.8,174.9 L124.7,175.5 L125.6,175.0 L126.5,175.6 L127.4,177.6 L128.3,176.9 L129.2,177.5 L130.1,178.1 L130.4,178.3 L131.0,178.7 L131.9,178.7 L132.8,178.5 L133.7,179.1 L134.6,179.1 L135.5,179.7 L136.2,179.3 L137.3,179.1 L138.2,179.4 L139.1,180.2 L140.0,179.7 L140.9,179.2 L141.8,179.7 L142.7,180.0 L143.6,180.4 L144.5,180.0 L145.4,180.7 L146.3,180.9 L147.2,180.5 L147.7,180.6 L148.1,181.1 L149.0,181.1 L149.9,181.2 L150.8,181.4 L151.7,181.7 L152.6,181.4 L153.5,181.5 L154.4,181.2 L155.3,181.2 L156.2,180.9 L157.1,181.7 L158.0,181.3 L158.9,182.0 L159.8,182.0 L160.7,181.6 L161.6,181.8 L162.5,181.2 L163.4,181.9 L164.3,182.2 L165.2,181.5 L166.1,181.9 L167.0,182.4 L167.9,182.0 L168.8,181.7 L169.7,181.8 L170.6,182.0 L171.5,182.4 L172.4,182.5 L173.3,182.4 L174.2,182.4 L175.1,182.6 L176.0,183.0 L176.9,183.0 L177.8,183.1 L178.7,182.8 L179.6,182.4 L180.5,182.7 L181.4,183.1 L182.3,183.2 L183.2,183.0 L184.1,182.8 L185.0,183.0 L185.9,183.0 L186.8,183.1 L187.7,183.2 L188.6,183.3 L189.5,183.4 L190.4,183.5 L191.3,183.7 L192.2,184.0 L193.1,184.0 L194.0,183.8 L194.9,183.9 L195.8,184.0 L196.7,184.0 L197.6,184.3 L198.5,184.4 L199.4,184.1 L200.0,183.9 L201.2,184.3 L202.1,184.2 L203.0,184.4 L203.9,184.2 L204.8,184.6 L205.7,184.5 L206.6,184.4 L207.5,184.4 L208.4,184.4 L209.3,184.5 L210.2,184.6 L211.1,184.6 L212.0,184.9 L212.9,184.9 L213.8,184.9 L214.7,184.9 L215.6,184.8 L216.5,185.0 L217.4,185.1 L218.3,185.1 L219.2,185.2 L220.1,185.2 L221.0,185.3 L221.9,185.3 L222.8,185.4 L223.7,185.4 L224.6,185.5 L225.5,185.5 L226.4,185.5 L227.3,185.6 L228.2,185.6 L229.1,185.6 L230.0,185.6 L230.9,185.6 L231.8,185.6 L232.7,185.6 L233.6,185.6 L234.5,185.6 L235.4,185.6 L236.3,185.6 L237.2,185.6 L238.1,185.6 L239.0,185.6 L239.9,185.6 L240.8,185.6 L241.7,185.6 L242.6,185.6 L243.5,185.6 L244.4,185.6 L245.3,185.6 L246.2,185.6 L247.1,185.6 L248.0,185.6 L248.9,185.6 L249.8,185.6 L250.7,185.6 L251.6,185.6 L252.5,185.6 L253.4,185.6 L254.3,185.6 L255.2,185.6 L256.1,185.6 L257.0,185.6 L257.9,185.6 L258.8,185.6 L259.7,185.6 L260.6,185.6 L261.5,185.6 L262.4,185.6 L263.3,185.6 L264.2,185.6 L265.1,185.6 L266.0,185.6 L266.9,185.6 L267.8,185.6 L268.7,185.6 L269.0,185.6" fill="none" stroke="#26e2e2" stroke-width="2.0" stroke-linejoin="round"/>
<path d="M290.5,179.1 L291.4,177.4 L292.3,175.9 L293.2,173.9 L294.1,172.6 L295.0,171.6 L295.9,169.2 L296.5,167.4 L297.7,166.4 L298.6,164.7 L299.5,164.1 L300.4,161.8 L301.3,160.1 L302.2,158.2 L303.1,158.3 L304.0,157.4 L304.9,153.4 L305.8,151.1 L306.7,149.1 L307.6,144.5 L308.5,140.4 L309.4,135.2 L310.3,130.5 L311.2,127.8 L312.1,123.4 L313.0,119.9 L313.9,113.7 L314.8,109.3 L315.7,102.4 L316.6,98.2 L317.5,95.1 L318.4,88.2 L319.3,84.1 L319.6,82.4 L320.2,79.7 L321.1,73.8 L322.0,69.2 L322.9,64.4 L323.8,61.1 L324.7,58.5 L325.6,57.4 L326.0,56.4 L326.5,56.9 L327.4,57.8 L328.3,59.3 L329.2,60.4 L330.0,60.4 L331.0,66.2 L331.9,71.3 L332.8,77.3 L333.5,80.5 L334.6,85.8 L335.5,92.3 L336.4,101.5 L337.0,104.8 L338.2,114.7 L339.1,121.4 L340.0,124.9 L340.4,128.6 L340.9,132.3 L341.8,139.3 L342.7,146.1 L343.6,152.1 L344.5,157.4 L345.4,161.5 L346.3,166.4 L347.2,169.2 L348.1,171.9 L349.0,173.6 L349.9,175.8 L350.8,177.5 L351.7,178.7 L352.6,180.0 L353.5,180.9 L354.2,181.4 L355.3,182.1 L356.2,182.5 L357.1,183.1 L358.0,183.3 L358.9,183.6 L359.8,183.6 L360.7,184.1 L361.6,184.1 L362.5,184.3 L363.4,184.5 L364.3,184.5 L365.2,184.7 L366.1,184.6 L367.0,184.6 L367.9,184.7 L368.8,185.0 L369.7,185.0 L370.6,184.9 L371.5,185.1 L372.4,184.9 L373.3,185.3 L374.2,185.0 L375.1,185.2 L376.0,185.2 L376.9,185.1 L377.8,185.3 L378.7,185.4 L379.6,185.4 L380.5,185.4 L381.4,185.5 L382.3,185.5 L383.2,185.6 L384.1,185.5 L385.0,185.5 L385.9,185.4 L386.8,185.6 L387.7,185.5 L388.6,185.5 L389.5,185.6 L390.4,185.7 L391.3,185.6 L392.2,185.6 L393.1,185.7 L394.0,185.7 L394.9,185.7 L395.8,185.8 L396.7,185.6 L397.6,185.8 L398.5,185.7 L399.4,185.8 L400.0,185.8 L401.2,185.8 L402.1,185.8 L403.0,185.9 L403.9,186.0 L404.8,185.9 L405.7,186.0 L406.6,185.9 L407.5,185.8 L408.4,186.0 L409.3,186.0 L410.2,185.9 L411.1,185.9 L412.0,186.0 L412.9,186.0 L413.8,186.0 L414.7,186.0 L415.6,186.0 L416.5,186.0 L417.4,186.0 L418.3,186.1 L419.2,186.0 L420.1,186.1 L421.0,186.1 L421.9,186.1 L422.8,186.1 L423.7,186.1 L424.6,186.1 L425.5,186.2 L426.4,186.1 L427.3,186.1 L428.2,186.1 L429.1,186.2 L430.0,186.2 L430.9,186.2 L431.8,186.2 L432.7,186.1 L433.6,186.2 L434.5,186.2 L435.4,186.2 L436.3,186.2 L437.2,186.2 L438.1,186.2 L439.0,186.2 L439.9,186.2 L440.8,186.2 L441.7,186.2 L442.6,186.2 L443.5,186.2 L444.4,186.2 L445.3,186.2 L446.2,186.2 L447.1,186.2 L448.0,186.2 L448.9,186.2 L449.8,186.2 L450.7,186.2 L451.6,186.2 L452.5,186.2 L453.4,186.3 L454.3,186.3 L455.2,186.3 L456.1,186.3 L457.0,186.2 L457.9,186.2 L458.8,186.2 L459.7,186.3 L460.6,186.2 L461.5,186.3 L462.4,186.2 L463.3,186.2 L464.2,186.3 L465.1,186.2 L466.0,186.3 L466.9,186.2 L467.8,186.3 L468.7,186.3 L469.6,186.2 L470.5,186.3 L471.4,186.3 L472.3,186.3 L473.2,186.2 L474.1,186.3 L475.0,186.3 L475.9,186.3 L476.8,186.3 L477.7,186.2 L478.6,186.3 L479.5,186.3 L480.4,186.3 L481.3,186.3 L482.2,186.3 L483.1,186.3 L484.0,186.3 L484.9,186.3 L485.8,186.3 L486.7,186.3 L487.6,186.3 L488.5,186.3 L489.4,186.3 L490.3,186.3 L491.2,186.3 L492.1,186.3 L493.0,186.3 L493.9,186.3 L494.8,186.3 L495.7,186.3 L496.6,186.3 L497.5,186.3 L498.4,186.3 L499.3,186.3 L500.2,186.3 L501.1,186.3 L502.0,186.3 L502.9,186.3 L503.8,186.3 L504.7,186.3 L505.6,186.3 L506.5,186.3 L507.4,186.3 L508.3,186.3 L509.2,186.3 L510.1,186.3 L511.0,186.3 L511.9,186.3" fill="none" stroke="#6c6c6c" stroke-width="1.9" stroke-linejoin="round"/>
<path d="M290.0,185.0 L290.9,185.0 L291.8,185.0 L292.7,185.1 L293.6,185.1 L294.5,185.2 L295.4,185.1 L296.3,185.0 L297.2,185.1 L298.1,185.4 L299.0,185.1 L299.9,185.1 L300.8,184.7 L301.7,185.0 L302.6,185.0 L303.5,185.1 L304.4,184.9 L305.3,184.7 L306.2,185.0 L307.1,185.0 L308.0,184.9 L308.9,184.8 L309.8,185.1 L310.7,185.0 L311.6,185.2 L312.5,184.9 L313.4,184.9 L314.3,184.9 L315.2,184.6 L316.1,184.6 L317.0,184.9 L317.9,184.8 L318.8,184.8 L319.7,184.6 L320.6,184.8 L321.5,184.9 L322.4,184.9 L323.3,184.9 L324.2,184.9 L325.1,184.9 L326.0,184.8 L326.9,184.9 L327.8,184.5 L328.7,184.6 L329.6,184.6 L330.5,184.7 L331.4,184.5 L332.3,184.7 L333.2,184.8 L334.1,184.7 L335.0,184.6 L335.9,184.6 L336.8,184.5 L337.7,184.3 L338.0,184.4 L338.6,184.6 L339.5,184.1 L340.4,184.0 L341.3,183.5 L342.2,182.9 L343.1,182.3 L344.0,181.9 L344.9,181.3 L345.8,180.5 L346.7,179.3 L347.6,178.8 L348.5,178.0 L349.4,177.3 L350.3,176.5 L351.2,175.6 L352.1,174.3 L353.0,172.5 L353.9,170.0 L354.8,169.0 L355.7,167.2 L356.6,164.4 L357.5,162.4 L358.4,162.0 L359.3,158.1 L360.2,155.1 L361.1,153.6 L362.0,152.1 L362.9,148.2 L363.8,145.5 L364.7,141.9 L365.6,138.4 L366.5,135.7 L367.4,131.7 L368.3,127.5 L369.2,124.8 L370.1,121.3 L371.0,116.6 L371.9,113.5 L372.8,110.1 L373.7,105.9 L374.6,104.4 L375.0,101.7 L375.5,99.5 L376.4,94.5 L377.3,90.4 L378.2,88.7 L379.1,81.6 L380.0,78.9 L380.8,74.9 L381.8,71.8 L382.7,68.0 L383.6,62.6 L384.2,61.2 L385.4,59.4 L386.3,58.3 L387.2,57.6 L387.5,57.2 L388.1,58.6 L389.0,61.0 L389.9,62.2 L390.8,63.5 L391.2,66.1 L391.7,67.7 L392.6,73.4 L393.5,81.6 L394.4,87.3 L395.3,94.8 L396.2,101.2 L397.1,109.3 L397.4,111.8 L398.0,119.4 L398.9,127.5 L399.8,135.9 L400.3,142.2 L400.7,143.4 L401.6,152.5 L402.5,159.5 L403.4,164.9 L404.0,167.2 L405.2,171.1 L406.1,173.6 L407.0,176.4 L407.9,177.6 L408.8,179.9 L409.7,181.1 L410.4,181.4 L411.5,181.6 L412.4,182.3 L413.3,182.5 L414.2,183.1 L415.1,183.4 L416.0,183.4 L416.9,183.3 L417.8,183.8 L418.7,183.9 L419.6,184.4 L420.5,184.6 L421.4,184.4 L422.3,184.7 L423.2,184.7 L424.1,184.7 L425.0,184.6 L425.9,184.9 L426.8,184.8 L427.7,185.1 L428.6,185.0 L429.5,185.2 L430.4,185.2 L431.3,185.1 L432.2,185.4 L433.1,185.6 L434.0,185.7 L434.9,185.7 L435.8,185.7 L436.7,185.9 L437.6,185.9 L438.5,185.9 L439.4,186.0 L440.3,186.1 L441.2,186.1 L442.1,186.1 L443.0,186.2 L443.9,186.2 L444.8,186.2 L445.7,186.2 L446.6,186.2 L447.5,186.2 L448.4,186.2 L449.3,186.2 L450.2,186.2 L451.1,186.3 L452.0,186.2 L452.9,186.3 L453.8,186.2 L454.7,186.2 L455.6,186.2 L456.5,186.2 L457.4,186.2 L458.3,186.2 L459.2,186.2 L460.1,186.2 L461.0,186.3 L461.9,186.2 L462.8,186.2 L463.7,186.2 L464.6,186.3 L465.5,186.3 L466.4,186.3 L467.3,186.3 L468.2,186.3 L469.1,186.3 L470.0,186.3 L470.9,186.3 L471.8,186.3 L472.7,186.3 L473.6,186.3 L474.5,186.3 L475.4,186.3 L476.3,186.2 L477.2,186.2 L478.1,186.3 L479.0,186.3 L479.9,186.3 L480.8,186.3 L481.7,186.3 L482.6,186.3 L483.5,186.3 L484.4,186.3 L485.3,186.3 L486.2,186.2 L487.1,186.3 L488.0,186.3 L488.9,186.3 L489.8,186.3 L490.7,186.3 L491.6,186.3 L492.5,186.3 L493.4,186.3 L494.3,186.3 L495.2,186.3 L496.1,186.3 L497.0,186.3 L497.9,186.3 L498.8,186.3 L499.7,186.3 L500.6,186.3 L501.5,186.3 L502.4,186.3 L503.3,186.3 L504.2,186.3 L505.1,186.3 L506.0,186.3 L506.9,186.3 L507.8,186.3 L508.7,186.3 L509.6,186.3 L510.5,186.2 L511.4,186.3 L512.0,186.3" fill="none" stroke="#e0141e" stroke-width="1.9" stroke-linejoin="round"/>
<path d="M290.0,184.0 L290.9,184.0 L291.8,183.7 L292.7,183.6 L293.6,184.3 L294.5,183.9 L295.4,184.0 L296.3,183.8 L297.2,184.0 L298.1,184.0 L299.0,183.9 L299.9,183.8 L300.8,183.9 L301.7,183.5 L302.6,183.6 L303.5,183.5 L304.4,183.7 L305.3,183.2 L306.2,183.0 L307.1,182.9 L308.0,183.4 L308.9,182.9 L309.8,183.0 L310.7,182.8 L311.6,182.6 L312.5,182.3 L313.4,182.1 L314.3,181.9 L315.2,181.4 L316.1,182.3 L317.0,181.8 L317.9,181.5 L318.8,181.3 L319.7,181.0 L320.6,181.2 L321.5,180.7 L322.4,180.5 L323.3,179.8 L324.2,180.0 L325.1,180.1 L326.0,178.8 L326.9,178.1 L327.8,176.9 L328.7,176.5 L329.6,175.5 L330.5,173.5 L331.4,171.4 L332.3,170.1 L333.2,168.5 L334.1,166.6 L335.0,165.2 L335.8,163.4 L336.8,160.7 L337.7,159.2 L338.6,158.5 L339.5,154.9 L340.4,151.7 L341.3,150.1 L342.2,145.0 L343.1,140.5 L344.0,138.0 L344.9,135.5 L345.8,133.1 L346.7,129.6 L347.6,123.5 L348.5,123.0 L349.4,117.9 L350.3,114.7 L351.2,110.5 L352.0,107.3 L353.0,103.7 L353.9,101.0 L354.8,96.6 L355.7,94.9 L356.6,92.4 L357.5,89.0 L358.4,87.5 L359.3,83.4 L360.2,80.3 L361.1,78.5 L362.0,73.8 L362.3,71.0 L362.9,66.7 L363.8,64.3 L364.7,57.4 L365.6,54.8 L366.5,54.8 L367.4,58.9 L368.3,63.2 L369.2,62.0 L370.1,60.2 L370.8,61.1 L371.9,69.0 L372.8,76.1 L373.7,84.8 L374.6,94.5 L375.5,105.1 L376.4,115.8 L377.3,123.4 L378.2,131.2 L379.1,140.0 L380.0,149.0 L380.5,152.6 L380.9,155.1 L381.8,161.0 L382.7,165.9 L383.6,171.2 L384.2,171.5 L385.4,175.3 L386.3,176.7 L387.2,178.9 L388.1,180.0 L389.0,181.3 L389.9,182.2 L390.8,182.6 L391.2,182.9 L391.7,182.6 L392.6,183.2 L393.5,183.1 L394.4,183.4 L395.3,183.8 L396.2,183.9 L397.1,184.2 L398.0,183.6 L398.9,183.8 L399.8,184.1 L400.7,183.9 L401.6,184.2 L402.5,184.5 L403.4,184.4 L404.3,184.2 L405.2,184.5 L406.1,184.7 L407.0,184.7 L407.9,184.7 L408.8,184.8 L409.7,184.6 L410.6,184.9 L411.5,184.8 L412.4,185.0 L413.3,185.1 L414.2,185.0 L415.1,185.3 L416.0,185.3 L416.9,185.2 L417.8,185.3 L418.7,185.2 L419.6,185.3 L420.5,185.4 L421.4,185.4 L422.3,185.6 L423.2,185.3 L424.1,185.6 L425.0,185.5 L425.9,185.6 L426.8,185.7 L427.7,185.7 L428.6,185.8 L429.5,185.8 L430.4,185.7 L431.3,185.8 L432.2,186.0 L433.1,186.0 L434.0,185.9 L434.9,185.9 L435.8,186.0 L436.7,185.8 L437.6,185.9 L438.5,185.9 L439.4,186.0 L440.0,186.0 L441.2,186.0 L442.1,186.0 L443.0,186.0 L443.9,186.0 L444.8,186.0 L445.7,186.0 L446.6,186.0 L447.5,186.1 L448.4,186.1 L449.3,186.1 L450.2,186.1 L451.1,186.1 L452.0,186.1 L452.9,186.1 L453.8,186.1 L454.7,186.1 L455.6,186.1 L456.5,186.1 L457.4,186.1 L458.3,186.1 L459.2,186.2 L460.1,186.2 L461.0,186.2 L461.9,186.2 L462.8,186.1 L463.7,186.2 L464.6,186.1 L465.5,186.2 L466.4,186.2 L467.3,186.2 L468.2,186.2 L469.1,186.2 L470.0,186.2 L470.9,186.2 L471.8,186.2 L472.7,186.2 L473.6,186.2 L474.5,186.2 L475.4,186.2 L476.3,186.2 L477.2,186.2 L478.1,186.2 L479.0,186.2 L479.9,186.2 L480.8,186.3 L481.7,186.2 L482.6,186.2 L483.5,186.2 L484.4,186.3 L485.3,186.3 L486.2,186.3 L487.1,186.3 L488.0,186.2 L488.9,186.3 L489.8,186.3 L490.7,186.3 L491.6,186.2 L492.5,186.3 L493.4,186.3 L494.3,186.2 L495.2,186.3 L496.1,186.3 L497.0,186.3 L497.9,186.3 L498.8,186.3 L499.7,186.3 L500.6,186.3 L501.5,186.3 L502.4,186.3 L503.3,186.3 L504.2,186.3 L505.1,186.3 L506.0,186.3 L506.9,186.3 L507.8,186.3 L508.7,186.3 L509.6,186.3 L510.5,186.3 L511.4,186.3 L512.0,186.3" fill="none" stroke="#24d824" stroke-width="1.9" stroke-linejoin="round"/>
<path d="M290.0,185.7 L290.9,185.6 L291.8,185.7 L292.7,185.5 L293.6,185.6 L294.5,185.4 L295.4,185.5 L296.3,185.3 L297.2,185.5 L298.1,185.4 L299.0,185.5 L299.9,185.7 L300.8,185.6 L301.7,185.6 L302.6,185.7 L303.5,185.5 L304.4,185.6 L305.3,185.5 L306.2,185.6 L307.1,185.7 L308.0,185.5 L308.9,185.6 L309.8,185.4 L310.7,185.5 L311.6,185.6 L312.5,185.6 L313.4,185.4 L314.3,185.3 L315.2,185.4 L316.1,185.5 L317.0,185.4 L317.9,185.3 L318.8,185.4 L319.7,185.4 L320.6,185.2 L321.5,185.2 L322.4,185.0 L323.3,185.2 L324.2,185.1 L325.1,185.2 L326.0,185.1 L326.9,185.2 L327.8,184.9 L328.7,185.0 L329.6,184.5 L330.5,184.5 L331.4,184.4 L332.3,184.0 L333.2,183.1 L334.1,183.1 L335.0,182.1 L335.9,181.2 L336.8,180.5 L337.7,179.6 L338.6,179.1 L339.5,177.5 L340.4,176.9 L341.3,176.1 L342.2,174.5 L343.1,174.5 L344.0,173.5 L344.9,171.2 L345.8,170.3 L346.7,168.6 L347.6,167.2 L348.5,164.8 L349.4,163.5 L350.3,161.1 L351.2,161.0 L352.0,158.8 L353.0,157.5 L353.9,152.7 L354.8,151.3 L355.7,148.2 L356.6,146.1 L357.5,143.4 L358.4,139.3 L359.3,135.7 L360.2,132.2 L361.1,130.9 L362.0,129.0 L362.9,125.9 L363.8,121.7 L364.7,117.4 L365.6,115.2 L366.5,111.7 L367.4,108.8 L368.0,109.0 L369.2,103.8 L370.1,102.0 L371.0,99.3 L371.9,98.1 L372.8,95.0 L373.7,89.7 L374.6,88.1 L375.0,86.8 L375.5,87.5 L376.4,83.4 L377.3,76.9 L378.2,75.3 L379.1,70.2 L379.6,68.0 L380.0,66.5 L380.9,66.9 L381.8,65.8 L382.7,63.7 L383.0,64.5 L383.6,65.2 L384.5,64.1 L385.4,67.3 L386.3,70.9 L387.2,73.1 L388.1,77.4 L389.0,85.0 L389.9,93.8 L390.8,105.5 L391.6,112.0 L392.6,122.2 L393.5,133.3 L394.4,141.1 L395.3,146.6 L396.2,152.9 L397.1,157.7 L398.0,162.2 L398.8,163.6 L399.8,166.1 L400.7,168.9 L401.6,171.0 L402.5,173.7 L403.4,175.2 L404.3,176.5 L405.2,178.4 L406.1,179.2 L407.0,180.1 L407.5,180.3 L407.9,180.2 L408.8,180.6 L409.7,181.2 L410.6,181.5 L411.5,182.1 L412.4,182.7 L413.3,182.9 L414.2,182.9 L415.1,183.6 L416.0,183.3 L416.9,183.8 L417.8,184.0 L418.7,184.3 L419.0,184.1 L419.6,184.3 L420.5,184.4 L421.4,184.6 L422.3,184.5 L423.2,184.6 L424.1,184.7 L425.0,185.1 L425.9,185.1 L426.8,185.2 L427.7,185.0 L428.6,185.3 L429.5,185.1 L430.4,185.4 L431.3,185.3 L432.2,185.3 L433.1,185.3 L434.0,185.5 L434.9,185.5 L435.8,185.5 L436.7,185.6 L437.6,185.6 L438.5,185.7 L439.4,185.8 L440.3,185.9 L441.2,186.0 L442.1,186.0 L443.0,186.0 L443.9,186.1 L444.8,186.1 L445.7,186.1 L446.6,186.2 L447.5,186.2 L448.4,186.2 L449.3,186.2 L450.0,186.2 L451.1,186.2 L452.0,186.2 L452.9,186.2 L453.8,186.2 L454.7,186.2 L455.6,186.2 L456.5,186.3 L457.4,186.2 L458.3,186.3 L459.2,186.2 L460.1,186.2 L461.0,186.3 L461.9,186.3 L462.8,186.3 L463.7,186.2 L464.6,186.3 L465.5,186.2 L466.4,186.3 L467.3,186.3 L468.2,186.3 L469.1,186.3 L470.0,186.3 L470.9,186.3 L471.8,186.2 L472.7,186.2 L473.6,186.2 L474.5,186.3 L475.4,186.3 L476.3,186.3 L477.2,186.2 L478.1,186.3 L479.0,186.3 L479.9,186.3 L480.8,186.3 L481.7,186.3 L482.6,186.3 L483.5,186.3 L484.4,186.3 L485.3,186.3 L486.2,186.3 L487.1,186.3 L488.0,186.3 L488.9,186.3 L489.8,186.3 L490.7,186.3 L491.6,186.3 L492.5,186.3 L493.4,186.3 L494.3,186.3 L495.2,186.3 L496.1,186.3 L497.0,186.3 L497.9,186.3 L498.8,186.3 L499.7,186.3 L500.6,186.3 L501.5,186.3 L502.4,186.3 L503.3,186.3 L504.2,186.3 L505.1,186.3 L506.0,186.3 L506.9,186.3 L507.8,186.3 L508.7,186.3 L509.6,186.3 L510.5,186.3 L511.4,186.3 L512.0,186.3" fill="none" stroke="#0c0cc0" stroke-width="1.9" stroke-linejoin="round"/>
<path d="M290.0,183.4 L290.9,183.2 L291.8,183.3 L292.7,183.5 L293.6,183.2 L294.5,183.2 L295.4,182.8 L296.3,183.3 L297.2,183.4 L298.1,183.3 L299.0,183.6 L299.9,183.5 L300.8,183.4 L301.7,183.1 L302.6,182.7 L303.5,182.8 L304.4,183.0 L305.3,183.0 L306.2,182.8 L307.1,182.6 L308.0,182.8 L308.9,182.4 L309.8,182.8 L310.7,182.7 L311.6,182.7 L312.5,182.5 L313.4,182.2 L314.3,181.9 L315.2,181.7 L316.1,182.2 L317.0,182.0 L317.9,181.8 L318.8,181.5 L319.6,181.3 L320.6,181.6 L321.5,181.0 L322.4,180.7 L323.3,180.5 L324.2,178.7 L325.1,177.9 L326.0,177.4 L326.9,176.5 L327.8,174.8 L328.7,173.8 L329.6,172.1 L330.5,170.7 L331.0,170.2 L331.4,169.4 L332.3,167.8 L333.2,165.1 L334.1,162.7 L335.0,158.5 L335.9,156.1 L336.8,152.0 L337.7,148.9 L338.0,148.1 L338.6,147.4 L339.5,143.7 L340.4,138.8 L341.3,137.2 L342.2,133.1 L343.1,127.9 L343.8,123.9 L344.9,117.5 L345.8,111.2 L346.7,109.0 L347.6,100.8 L348.5,95.5 L349.4,89.8 L350.3,84.3 L351.2,79.0 L352.1,75.1 L353.0,68.1 L353.9,63.3 L354.8,60.1 L355.7,58.7 L356.6,52.8 L357.5,49.2 L358.4,47.8 L359.3,43.8 L360.2,42.7 L361.1,42.3 L362.0,40.4 L362.9,39.1 L363.5,40.8 L364.7,40.5 L365.6,43.5 L366.5,46.4 L367.0,51.1 L367.4,55.1 L368.3,63.6 L369.2,78.3 L370.1,87.9 L370.4,91.0 L371.0,95.0 L371.9,105.7 L372.8,114.8 L373.7,121.5 L374.6,131.3 L375.5,139.2 L376.4,145.8 L377.3,153.6 L378.2,160.0 L379.1,164.9 L380.0,169.1 L380.9,173.6 L381.8,176.8 L382.7,177.8 L383.6,179.5 L384.5,180.5 L385.4,181.4 L386.3,182.4 L387.2,182.4 L388.1,183.5 L388.8,183.6 L389.9,183.6 L390.8,183.4 L391.7,183.8 L392.6,183.8 L393.5,183.5 L394.4,183.8 L395.3,183.9 L396.2,183.9 L397.1,183.9 L398.0,183.9 L398.9,184.4 L399.8,184.4 L400.7,184.3 L401.6,184.6 L402.5,184.7 L403.4,184.4 L404.3,184.1 L405.2,184.5 L406.1,184.8 L407.0,184.6 L407.9,184.8 L408.8,185.0 L409.7,185.0 L410.6,185.0 L411.5,185.0 L412.4,185.0 L413.3,185.0 L414.2,185.2 L415.1,185.1 L416.0,185.0 L416.9,185.1 L417.8,185.4 L418.7,185.4 L419.6,185.2 L420.5,185.2 L421.4,185.4 L422.3,185.5 L423.2,185.6 L424.1,185.6 L425.0,185.5 L425.9,185.7 L426.8,185.7 L427.7,185.7 L428.6,185.9 L429.5,185.8 L430.4,185.8 L431.3,185.8 L432.2,185.9 L433.1,186.0 L434.0,185.9 L434.9,186.0 L435.8,186.0 L436.7,185.9 L437.6,186.0 L438.5,186.0 L439.4,186.0 L440.0,186.0 L441.2,186.0 L442.1,186.0 L443.0,186.0 L443.9,186.1 L444.8,186.0 L445.7,186.0 L446.6,186.0 L447.5,186.0 L448.4,186.1 L449.3,186.1 L450.2,186.0 L451.1,186.1 L452.0,186.1 L452.9,186.1 L453.8,186.1 L454.7,186.1 L455.6,186.1 L456.5,186.1 L457.4,186.1 L458.3,186.1 L459.2,186.1 L460.1,186.1 L461.0,186.2 L461.9,186.2 L462.8,186.2 L463.7,186.1 L464.6,186.2 L465.5,186.2 L466.4,186.2 L467.3,186.2 L468.2,186.2 L469.1,186.2 L470.0,186.2 L470.9,186.2 L471.8,186.2 L472.7,186.2 L473.6,186.2 L474.5,186.3 L475.4,186.2 L476.3,186.2 L477.2,186.3 L478.1,186.2 L479.0,186.2 L479.9,186.2 L480.8,186.3 L481.7,186.2 L482.6,186.2 L483.5,186.3 L484.4,186.3 L485.3,186.3 L486.2,186.2 L487.1,186.3 L488.0,186.3 L488.9,186.3 L489.8,186.3 L490.7,186.3 L491.6,186.3 L492.5,186.3 L493.4,186.3 L494.3,186.3 L495.2,186.3 L496.1,186.3 L497.0,186.3 L497.9,186.2 L498.8,186.3 L499.7,186.3 L500.6,186.3 L501.5,186.3 L502.4,186.3 L503.3,186.3 L504.2,186.3 L505.1,186.3 L506.0,186.3 L506.9,186.3 L507.8,186.3 L508.7,186.3 L509.6,186.3 L510.5,186.3 L511.4,186.3 L512.0,186.3" fill="none" stroke="#26e2e2" stroke-width="1.9" stroke-linejoin="round"/>
<path d="M47.5,375.2 L48.4,375.2 L49.3,375.3 L50.2,375.4 L51.1,375.4 L52.0,375.3 L52.9,374.6 L53.8,374.2 L54.7,374.6 L55.6,374.6 L56.5,375.3 L57.4,375.4 L58.3,375.1 L59.2,374.7 L60.0,374.7 L61.0,374.6 L61.9,374.3 L62.8,374.0 L63.7,373.4 L64.6,373.9 L65.5,373.4 L66.4,373.1 L67.0,373.4 L68.2,372.5 L69.1,371.1 L70.0,370.7 L70.4,370.4 L70.9,370.5 L71.8,368.8 L72.7,368.9 L73.6,368.4 L74.5,368.5 L75.4,366.7 L76.3,365.3 L76.7,365.3 L77.2,365.2 L78.1,363.2 L79.0,361.8 L79.6,360.4 L80.8,360.4 L81.7,362.2 L82.5,362.1 L83.5,359.9 L84.4,357.1 L85.3,355.6 L86.2,351.6 L87.1,348.5 L87.7,347.2 L88.9,344.0 L89.8,342.0 L90.7,340.8 L91.1,341.5 L91.6,341.6 L92.5,339.2 L93.4,336.2 L94.3,334.0 L94.6,329.9 L95.2,328.9 L96.1,328.2 L97.0,326.6 L97.9,325.5 L98.8,325.0 L99.7,320.5 L100.6,318.3 L101.5,312.8 L102.4,309.4 L103.3,306.7 L104.1,299.4 L105.1,294.9 L106.0,293.1 L106.7,290.0 L107.8,290.1 L108.7,287.5 L109.6,283.6 L110.4,276.9 L111.4,271.9 L112.3,269.6 L113.2,266.7 L114.1,264.6 L114.6,261.2 L115.0,258.8 L115.9,253.9 L116.7,253.4 L117.7,252.0 L118.5,254.9 L119.5,254.0 L120.4,260.1 L121.3,268.1 L122.2,273.6 L122.5,273.5 L123.1,278.8 L124.0,284.5 L124.9,293.5 L125.7,298.6 L126.7,302.6 L127.6,308.4 L128.5,311.2 L129.2,315.4 L130.3,325.9 L130.9,329.9 L132.1,336.2 L133.0,339.0 L133.9,341.7 L134.4,343.3 L134.8,342.9 L135.7,344.2 L136.6,347.5 L137.5,350.9 L137.9,352.2 L138.4,354.3 L139.3,357.3 L140.2,359.3 L141.1,361.3 L142.0,362.4 L142.9,364.9 L143.8,365.4 L144.7,365.9 L145.6,366.6 L146.5,367.5 L147.4,368.9 L148.3,369.2 L149.2,368.7 L150.1,369.9 L151.0,370.9 L151.9,371.8 L152.8,372.4 L153.7,372.4 L154.6,372.9 L155.0,372.7 L155.5,372.2 L156.4,372.8 L157.3,372.9 L158.2,373.5 L159.1,373.6 L160.0,373.1 L160.9,373.7 L161.8,373.9 L162.7,373.6 L163.6,373.5 L164.5,374.0 L165.4,374.0 L166.3,373.9 L167.2,373.6 L168.1,374.4 L169.0,374.4 L169.9,374.3 L170.8,374.4 L171.7,374.2 L172.6,374.6 L173.5,374.5 L174.4,374.5 L175.3,374.8 L176.2,374.9 L177.1,374.6 L178.0,375.0 L178.9,375.0 L179.8,374.7 L180.7,374.8 L181.6,375.0 L182.5,374.8 L183.4,375.3 L184.3,375.5 L185.2,375.2 L186.1,375.3 L187.0,375.4 L187.9,374.8 L188.8,374.7 L189.7,374.9 L190.6,374.8 L191.5,374.9 L192.4,375.1 L193.3,374.9 L194.2,375.0 L195.1,375.0 L196.0,374.9 L196.9,375.1 L197.8,375.2 L198.7,375.2 L199.6,375.2 L200.5,375.5 L201.4,375.4 L202.3,375.5 L203.2,375.6 L204.1,375.6 L205.0,375.2 L205.9,375.3 L206.8,375.4 L207.7,375.5 L208.6,375.7 L209.5,375.5 L210.4,375.7 L211.3,375.9 L212.2,376.1 L213.1,376.1 L214.0,375.7 L214.9,375.7 L215.8,375.4 L216.7,375.5 L217.6,375.5 L218.5,375.5 L219.4,375.6 L220.0,375.9 L221.2,375.9 L222.1,375.4 L223.0,375.3 L223.9,375.3 L224.8,375.3 L225.7,375.4 L226.6,375.3 L227.5,375.4 L228.4,375.2 L229.3,375.6 L230.2,375.8 L231.1,375.3 L232.0,375.6 L232.9,375.8 L233.8,375.6 L234.7,375.3 L235.6,375.7 L236.5,375.2 L237.4,375.7 L238.3,375.4 L239.2,375.4 L240.1,375.6 L241.0,375.6 L241.9,375.8 L242.8,375.8 L243.7,375.7 L244.6,375.9 L245.5,375.7 L246.4,375.6 L247.3,375.6 L248.2,375.6 L249.1,375.6 L250.0,375.8 L250.9,375.9 L251.8,375.9 L252.7,376.1 L253.6,375.9 L254.5,376.0 L255.4,376.1 L256.3,375.8 L257.2,375.8 L258.1,376.1 L259.0,375.6 L259.9,376.0 L260.8,375.6 L261.7,375.9 L262.6,375.6 L263.5,375.7 L264.4,375.7 L265.3,375.7 L266.2,375.9 L267.1,375.9 L268.0,375.8 L268.9,375.7 L269.8,375.9 L270.7,375.8 L271.6,375.7 L272.5,375.5" fill="none" stroke="#6c6c6c" stroke-width="2.0" stroke-linejoin="round"/>
<path d="M47.5,374.7 L48.4,374.8 L49.3,374.7 L50.2,374.6 L51.1,374.7 L52.0,374.7 L52.9,374.3 L53.8,374.7 L54.7,374.7 L55.6,374.7 L56.5,374.5 L57.4,374.2 L58.3,375.2 L59.2,375.0 L60.1,374.7 L61.0,375.1 L61.9,374.5 L62.8,374.5 L63.7,374.1 L64.6,374.6 L65.5,374.6 L66.4,374.8 L67.3,374.8 L68.2,375.1 L69.1,374.5 L70.0,375.0 L70.9,374.7 L71.8,374.1 L72.7,374.1 L73.6,373.8 L74.5,373.8 L75.4,373.9 L76.3,373.4 L77.2,373.8 L78.1,373.9 L79.0,373.9 L79.9,374.2 L80.8,373.7 L81.7,373.9 L82.6,374.3 L83.5,373.4 L84.4,373.2 L85.3,373.0 L86.2,372.9 L87.1,371.8 L88.0,371.2 L88.9,369.9 L89.8,369.6 L90.7,369.1 L91.6,368.5 L92.5,368.1 L93.4,367.5 L94.3,365.7 L95.0,364.2 L96.1,363.4 L97.0,361.8 L97.9,359.0 L98.8,357.8 L99.7,354.4 L100.6,352.0 L101.5,348.9 L102.4,347.3 L103.3,343.1 L104.2,340.7 L105.0,338.6 L106.0,336.0 L106.9,332.7 L107.8,326.5 L108.7,324.7 L109.6,319.1 L110.5,315.4 L111.4,310.3 L112.0,304.2 L113.2,295.5 L114.1,286.9 L115.0,280.5 L115.9,277.1 L116.8,270.0 L117.7,264.6 L118.6,264.3 L119.3,254.1 L120.4,249.3 L120.9,246.2 L121.3,241.3 L121.9,240.8 L123.1,233.8 L123.5,229.2 L124.0,225.3 L124.8,221.7 L125.8,222.6 L126.1,228.1 L126.7,227.7 L127.1,230.1 L127.6,237.1 L128.5,246.6 L129.4,254.6 L129.7,261.5 L130.3,268.2 L131.2,271.0 L132.1,272.7 L132.4,274.1 L133.0,277.3 L133.4,279.4 L133.9,283.9 L134.8,287.7 L135.7,290.8 L136.5,295.6 L137.5,301.4 L138.4,307.2 L139.3,312.1 L139.6,312.9 L140.2,318.2 L141.1,321.1 L142.0,325.7 L142.9,332.0 L143.8,334.2 L144.7,339.2 L145.6,341.3 L146.5,344.6 L147.4,348.3 L148.3,350.0 L149.2,351.2 L150.1,353.0 L151.0,355.8 L151.9,356.1 L152.8,358.4 L153.7,358.5 L154.0,358.2 L154.6,358.6 L155.5,359.6 L156.4,360.1 L157.3,361.8 L158.2,364.4 L158.8,365.0 L160.0,365.9 L160.9,366.3 L161.8,366.1 L162.7,366.3 L163.6,365.7 L164.5,365.6 L165.0,365.7 L165.4,366.1 L166.3,365.8 L167.2,366.4 L168.1,366.6 L169.0,367.0 L169.9,367.8 L170.8,369.4 L171.7,368.6 L172.6,369.3 L173.3,369.4 L174.4,369.5 L175.3,369.7 L176.2,370.7 L177.1,370.0 L178.0,371.0 L178.9,370.8 L179.8,370.2 L180.7,370.3 L181.6,370.4 L182.5,370.5 L183.4,371.8 L184.3,372.0 L185.2,372.4 L186.1,372.1 L187.0,372.8 L187.7,372.6 L188.8,373.7 L189.7,373.1 L190.6,373.4 L191.5,373.6 L192.4,373.3 L193.3,373.3 L194.2,373.3 L195.1,373.8 L196.0,373.5 L196.9,373.9 L197.8,374.2 L198.7,374.2 L199.6,374.0 L200.5,374.2 L201.4,374.4 L202.3,374.2 L203.2,374.7 L204.1,374.4 L205.0,374.5 L205.9,374.4 L206.8,374.8 L207.7,374.8 L208.6,374.7 L209.5,374.9 L210.4,375.6 L211.3,375.1 L212.2,375.2 L213.1,375.7 L214.0,375.7 L214.9,375.6 L215.8,375.9 L216.5,375.5 L217.6,375.5 L218.5,375.2 L219.4,375.5 L220.3,375.1 L221.2,375.7 L222.1,375.4 L223.0,375.5 L223.9,375.3 L224.8,375.4 L225.7,375.6 L226.6,375.9 L227.5,375.4 L228.4,375.0 L229.3,375.4 L230.2,375.3 L231.1,375.1 L232.0,375.3 L232.9,375.5 L233.8,375.7 L234.7,375.4 L235.6,375.9 L236.5,375.9 L237.4,376.0 L238.3,375.7 L239.2,375.3 L240.1,375.5 L241.0,375.6 L241.9,375.3 L242.8,375.4 L243.7,375.6 L244.6,375.7 L245.5,375.7 L246.4,375.5 L247.3,375.5 L248.2,375.7 L249.1,375.7 L250.0,375.5 L250.9,375.6 L251.8,375.9 L252.7,375.5 L253.6,375.5 L254.5,375.5 L255.4,375.7 L256.3,375.7 L257.2,375.7 L258.1,375.6 L259.0,375.7 L259.9,375.7 L260.8,375.6 L261.7,375.8 L262.6,375.5 L263.5,375.8 L264.4,375.8 L265.3,376.0 L266.2,376.2 L267.1,376.0 L268.0,376.1 L268.9,376.1 L269.8,376.2 L270.7,376.2 L271.6,375.9 L272.5,376.1" fill="none" stroke="#e0141e" stroke-width="2.0" stroke-linejoin="round"/>
<path d="M47.9,375.7 L48.8,374.7 L49.7,373.4 L50.6,373.5 L51.5,372.2 L52.4,371.3 L53.3,370.6 L53.7,370.6 L54.2,370.9 L55.1,370.0 L56.0,370.6 L56.9,370.4 L57.5,370.9 L58.7,370.6 L59.6,371.9 L60.5,372.0 L61.3,372.2 L62.3,370.8 L63.2,370.7 L64.1,370.0 L65.0,369.6 L65.9,370.4 L66.8,370.6 L67.7,370.5 L68.6,370.4 L69.5,370.0 L70.0,370.4 L70.4,370.7 L71.3,370.7 L72.2,370.9 L73.1,372.3 L73.8,371.9 L74.9,371.9 L75.8,371.4 L76.7,371.0 L77.3,371.2 L78.5,370.3 L79.4,370.1 L80.3,369.2 L81.2,368.7 L82.1,368.8 L83.0,369.4 L83.9,368.5 L84.8,369.1 L85.7,368.2 L86.0,368.2 L86.6,367.7 L87.5,368.2 L88.4,369.2 L89.3,369.2 L90.2,367.9 L91.1,367.5 L92.0,367.8 L92.9,366.4 L93.8,366.9 L94.6,365.8 L95.6,366.0 L96.5,365.6 L97.4,364.0 L98.1,362.7 L99.2,360.6 L100.1,358.7 L101.0,356.7 L101.5,356.3 L101.9,355.4 L102.8,352.4 L103.7,348.5 L104.6,346.2 L105.0,345.5 L105.5,343.5 L106.4,338.8 L107.3,337.0 L108.2,335.5 L109.1,328.4 L110.0,326.4 L110.9,324.8 L111.8,319.2 L112.7,316.1 L113.6,313.6 L114.5,311.0 L115.4,306.5 L116.3,304.1 L117.2,295.6 L118.1,295.2 L118.8,293.8 L119.9,293.3 L120.6,294.1 L121.7,289.9 L122.4,289.2 L123.5,287.4 L124.4,287.4 L125.0,287.4 L125.7,292.2 L126.2,296.1 L127.1,298.1 L128.0,302.1 L128.9,304.4 L129.2,306.4 L129.8,309.2 L130.7,312.9 L131.6,311.1 L132.5,314.5 L133.4,317.5 L134.3,320.2 L135.2,323.9 L136.0,323.8 L137.0,328.5 L137.9,333.1 L138.8,337.2 L139.7,340.1 L140.6,343.5 L141.5,345.0 L142.4,345.4 L143.3,347.4 L143.8,348.6 L144.2,348.5 L145.1,351.6 L146.0,350.6 L146.7,353.1 L147.8,356.0 L148.7,356.6 L149.6,358.0 L150.5,358.1 L151.4,358.4 L152.3,360.0 L153.2,362.3 L154.1,360.8 L155.0,361.8 L155.5,361.7 L155.9,362.7 L156.8,363.6 L157.7,364.3 L158.6,363.7 L159.5,365.1 L160.4,365.1 L161.3,365.6 L162.2,366.3 L163.1,366.9 L164.0,367.8 L164.4,368.7 L164.9,367.5 L165.8,366.7 L166.7,366.5 L167.6,365.5 L168.5,364.6 L169.4,363.5 L170.3,364.0 L171.2,365.4 L172.1,366.7 L173.0,368.0 L173.9,368.7 L174.8,369.8 L175.7,370.8 L176.6,370.5 L177.5,370.5 L178.4,370.2 L179.0,370.7 L180.2,370.4 L181.1,371.3 L182.0,371.8 L182.9,372.0 L183.8,372.0 L184.7,371.7 L185.6,371.9 L186.5,372.3 L187.4,372.7 L187.7,372.6 L188.3,373.0 L189.2,373.2 L190.1,373.1 L191.0,373.5 L191.9,373.2 L192.8,373.4 L193.7,373.6 L194.6,373.5 L195.5,373.0 L196.4,373.6 L197.3,373.6 L198.2,374.4 L199.1,374.4 L200.0,374.5 L200.9,374.4 L201.8,374.5 L202.7,374.5 L203.6,374.2 L204.5,374.0 L205.0,374.2 L205.4,373.9 L206.3,373.8 L207.2,374.2 L208.1,374.3 L209.0,374.7 L209.9,374.6 L210.8,374.9 L211.7,374.5 L212.6,375.1 L213.5,374.8 L214.4,374.4 L215.3,374.8 L216.2,375.0 L217.1,375.0 L218.0,374.9 L218.9,375.0 L219.8,375.1 L220.7,374.7 L221.6,374.8 L222.5,375.2 L223.4,375.6 L224.3,375.8 L225.2,375.5 L226.1,375.7 L227.0,375.6 L227.9,375.5 L228.8,375.5 L229.7,375.6 L230.0,375.8 L230.6,376.0 L231.5,375.9 L232.4,375.5 L233.3,375.5 L234.2,375.8 L235.1,375.8 L236.0,375.6 L236.9,375.9 L237.8,376.0 L238.7,375.8 L239.6,375.7 L240.5,375.9 L241.4,375.7 L242.3,375.7 L243.2,375.7 L244.1,376.1 L245.0,376.1 L245.9,375.7 L246.8,375.8 L247.7,375.7 L248.6,375.7 L249.5,375.7 L250.4,375.8 L251.3,375.8 L252.2,375.9 L253.1,375.9 L254.0,375.6 L254.9,376.0 L255.8,375.9 L256.7,376.1 L257.6,376.1 L258.5,376.1 L259.4,376.1 L260.3,376.1 L261.2,376.0 L262.1,375.7 L263.0,375.6 L263.9,375.8 L264.8,375.7 L265.7,375.7 L266.6,375.6 L267.5,375.7 L268.4,375.5 L269.3,375.8 L270.2,375.3 L271.1,375.3 L272.0,375.6 L272.5,375.4" fill="none" stroke="#24d824" stroke-width="2.0" stroke-linejoin="round"/>
<path d="M47.5,375.9 L48.4,374.9 L49.3,374.5 L50.2,373.9 L50.8,374.5 L52.0,373.8 L52.9,373.8 L53.8,373.3 L54.7,373.6 L55.6,373.6 L56.5,374.2 L57.4,374.1 L58.3,374.7 L59.2,374.2 L60.1,374.6 L61.0,374.3 L61.9,374.4 L62.8,374.0 L63.7,374.2 L64.6,374.2 L65.5,374.0 L66.4,374.4 L67.3,373.7 L68.2,373.8 L69.0,373.6 L70.0,373.5 L70.9,373.5 L71.8,374.2 L72.7,374.0 L73.6,374.1 L74.5,373.7 L75.4,373.7 L76.3,373.6 L77.2,374.3 L78.1,373.1 L78.7,374.1 L79.9,374.0 L80.8,374.0 L81.7,373.3 L82.6,373.1 L83.5,373.1 L84.4,372.1 L85.3,371.6 L86.2,370.9 L87.1,370.3 L88.0,370.0 L88.3,368.6 L88.9,368.8 L89.8,366.8 L90.7,367.7 L91.6,366.8 L92.5,367.0 L93.0,366.0 L93.4,365.2 L94.3,363.0 L94.6,362.1 L95.2,359.3 L96.1,358.7 L97.0,355.5 L97.9,355.0 L98.8,351.4 L99.7,349.9 L100.6,347.3 L101.5,345.3 L102.4,342.3 L103.3,338.6 L104.2,332.3 L105.1,330.3 L105.8,324.6 L106.9,321.1 L107.8,314.9 L108.4,315.5 L109.6,309.8 L110.5,305.0 L111.0,301.0 L111.4,298.0 L112.3,290.9 L113.0,288.2 L114.1,286.8 L115.0,285.7 L115.7,280.7 L116.8,273.5 L117.2,271.2 L117.7,264.7 L118.3,259.2 L119.5,257.3 L119.8,258.9 L120.4,257.2 L121.3,255.8 L121.9,251.5 L123.1,258.8 L123.5,257.6 L124.0,265.6 L124.5,263.4 L124.9,267.8 L125.8,271.9 L126.1,272.3 L126.7,273.5 L127.6,273.9 L128.2,274.4 L129.4,278.0 L130.3,281.6 L131.2,284.9 L132.1,296.2 L132.7,301.6 L133.9,306.0 L134.8,313.9 L135.7,315.6 L136.1,314.2 L136.6,320.5 L137.5,324.4 L138.4,329.0 L139.3,334.1 L139.6,336.3 L140.2,338.7 L141.1,344.9 L142.0,349.5 L142.9,353.8 L143.8,357.7 L144.7,360.1 L145.6,362.9 L146.5,363.8 L147.4,364.4 L148.3,366.3 L149.2,368.3 L150.1,369.1 L151.0,368.3 L151.9,369.1 L152.8,368.8 L153.7,369.4 L154.6,369.5 L155.5,369.9 L156.4,370.9 L157.3,371.4 L158.2,371.8 L158.8,371.5 L160.0,372.0 L160.9,372.5 L161.8,372.7 L162.7,372.3 L163.6,372.6 L164.5,372.8 L165.4,372.8 L166.3,372.3 L167.2,373.0 L168.1,372.0 L169.0,373.2 L169.9,372.9 L170.8,373.4 L171.7,373.5 L172.6,373.5 L173.3,373.6 L174.4,373.5 L175.3,373.0 L176.2,373.7 L177.1,373.5 L178.0,373.9 L178.9,373.9 L179.8,373.9 L180.7,374.0 L181.6,373.7 L182.5,374.4 L183.4,374.2 L184.3,374.8 L185.2,374.6 L186.1,375.0 L187.0,375.1 L187.9,375.6 L188.8,375.8 L189.7,375.5 L190.0,375.6 L190.6,375.6 L191.5,375.8 L192.4,375.6 L193.3,375.6 L194.2,375.1 L195.1,374.6 L196.0,375.1 L196.9,374.8 L197.8,374.8 L198.7,375.3 L199.6,375.5 L200.5,375.5 L201.4,375.9 L202.3,375.8 L203.2,376.0 L204.1,375.9 L205.0,376.0 L205.9,375.5 L206.8,375.5 L207.7,375.5 L208.6,375.3 L209.5,375.6 L210.4,375.7 L211.3,375.8 L212.2,375.9 L213.1,375.3 L214.0,375.7 L214.9,375.5 L215.8,375.5 L216.7,375.3 L217.6,375.0 L218.5,375.0 L219.4,375.0 L220.3,375.3 L221.2,375.2 L222.1,375.5 L223.0,375.5 L223.9,375.3 L224.8,375.6 L225.7,375.7 L226.6,376.0 L227.5,375.6 L228.4,375.4 L229.3,375.3 L230.0,375.5 L231.1,375.5 L232.0,375.6 L232.9,375.7 L233.8,375.5 L234.7,375.7 L235.6,375.6 L236.5,375.2 L237.4,375.4 L238.3,375.7 L239.2,375.4 L240.1,375.4 L241.0,375.5 L241.9,375.5 L242.8,375.5 L243.7,375.7 L244.6,375.7 L245.5,375.7 L246.4,376.0 L247.3,375.9 L248.2,376.0 L249.1,376.1 L250.0,375.8 L250.9,375.9 L251.8,376.0 L252.7,375.8 L253.6,375.8 L254.5,375.5 L255.4,375.6 L256.3,375.6 L257.2,375.7 L258.1,376.0 L259.0,376.0 L259.9,375.8 L260.8,375.4 L261.7,375.8 L262.6,375.8 L263.5,375.6 L264.4,375.8 L265.3,375.8 L266.2,375.9 L267.1,375.4 L268.0,375.4 L268.9,375.9 L269.8,375.6 L270.7,375.7 L271.6,375.8 L272.5,375.9" fill="none" stroke="#0c0cc0" stroke-width="2.0" stroke-linejoin="round"/>
<path d="M49.8,376.0 L50.7,376.2 L51.6,376.0 L52.5,375.8 L53.4,376.2 L54.3,375.9 L55.2,376.0 L56.1,375.9 L57.0,375.8 L57.9,375.3 L58.8,375.2 L59.7,375.3 L60.6,375.3 L61.5,375.4 L62.4,375.7 L63.3,375.2 L64.2,375.6 L65.1,375.9 L66.0,375.6 L66.9,375.7 L67.8,375.7 L68.7,375.7 L69.6,375.5 L70.5,375.1 L71.4,375.2 L72.3,374.9 L73.2,375.5 L73.8,375.1 L75.0,375.5 L75.9,375.3 L76.8,375.4 L77.7,375.0 L78.6,374.9 L79.5,374.0 L80.4,373.6 L81.3,372.8 L82.2,372.6 L83.1,372.3 L84.0,371.8 L84.9,371.4 L85.8,371.7 L86.7,371.3 L87.6,370.8 L88.3,370.4 L89.4,368.8 L90.3,367.6 L91.2,365.3 L92.1,363.5 L93.0,362.2 L93.9,361.1 L94.8,360.3 L95.7,359.8 L96.6,357.8 L97.5,357.9 L98.1,356.5 L99.3,355.2 L100.2,354.8 L101.1,350.5 L102.0,348.3 L102.4,347.6 L102.9,344.2 L103.8,344.2 L104.7,337.2 L105.6,335.3 L106.5,329.7 L107.4,326.9 L108.3,322.3 L109.2,317.2 L110.1,315.0 L111.0,311.1 L111.9,308.8 L112.8,307.6 L113.7,295.5 L114.6,286.7 L115.5,288.4 L116.4,282.0 L117.3,281.1 L117.7,282.1 L118.2,277.8 L119.1,276.0 L120.0,277.9 L120.9,273.2 L121.8,266.1 L122.7,267.8 L123.6,274.3 L124.0,272.5 L124.5,276.5 L125.4,279.9 L126.1,281.5 L127.2,282.1 L128.1,286.6 L129.0,291.8 L129.9,293.2 L130.3,296.7 L130.8,309.8 L131.7,313.5 L132.6,318.5 L133.5,318.3 L134.4,321.5 L135.3,326.2 L136.2,330.2 L137.1,334.3 L138.0,339.5 L138.9,342.4 L139.6,344.9 L140.7,348.0 L141.6,352.6 L142.5,353.8 L143.4,355.2 L144.3,357.8 L144.8,359.6 L145.2,359.9 L146.1,362.0 L147.0,363.4 L147.9,365.2 L148.8,366.7 L149.7,366.9 L150.0,367.1 L150.6,367.3 L151.5,367.9 L152.4,367.7 L153.3,368.4 L154.2,369.2 L155.1,369.5 L156.0,369.8 L156.9,370.1 L157.8,370.0 L158.7,370.2 L159.6,370.7 L160.0,371.5 L160.5,371.6 L161.4,371.7 L162.3,372.1 L163.2,372.4 L164.1,371.5 L165.0,372.4 L165.9,372.8 L166.8,373.0 L167.7,372.5 L168.6,373.1 L169.5,373.4 L170.4,373.4 L171.3,373.4 L172.2,373.3 L173.1,373.4 L174.0,373.3 L174.9,373.2 L175.8,373.6 L176.7,373.8 L177.6,373.9 L178.5,374.1 L179.4,374.0 L180.3,373.4 L181.2,373.6 L182.1,374.1 L183.0,374.3 L183.9,374.2 L184.8,374.2 L185.7,374.5 L186.6,374.7 L187.5,374.7 L188.4,374.2 L189.3,374.8 L190.2,374.8 L191.1,374.8 L192.0,375.4 L192.9,374.8 L193.8,374.9 L194.7,375.7 L195.6,374.8 L196.5,374.3 L197.4,374.7 L198.3,375.1 L199.2,374.9 L200.0,375.0 L201.0,375.3 L201.9,375.6 L202.8,375.4 L203.7,375.4 L204.6,375.4 L205.5,375.8 L206.4,376.2 L207.3,375.6 L208.2,375.6 L209.1,375.7 L210.0,375.8 L210.9,375.8 L211.8,375.6 L212.7,375.5 L213.6,375.9 L214.5,375.8 L215.4,376.0 L216.3,375.8 L217.2,376.0 L218.1,375.6 L219.0,376.1 L219.9,375.6 L220.8,375.5 L221.7,375.5 L222.6,375.3 L223.5,375.3 L224.4,375.6 L225.3,375.5 L226.2,376.0 L227.1,375.6 L228.0,376.0 L228.9,375.8 L229.8,375.5 L230.7,375.3 L231.6,375.6 L232.5,375.3 L233.4,375.7 L234.3,375.7 L235.2,375.9 L236.1,375.9 L237.0,376.1 L237.9,375.7 L238.8,375.5 L239.7,375.3 L240.6,375.7 L241.5,375.5 L242.4,375.8 L243.3,375.4 L244.2,375.7 L245.1,375.6 L246.0,375.7 L246.9,375.4 L247.8,375.6 L248.7,375.3 L249.6,375.4 L250.5,375.4 L251.4,375.6 L252.3,375.7 L253.2,375.6 L254.1,375.4 L255.0,375.3 L255.9,375.4 L256.8,375.7 L257.7,375.7 L258.6,375.7 L259.5,375.8 L260.4,375.6 L261.3,375.5 L262.2,375.3 L263.1,375.3 L264.0,375.3 L264.9,375.4 L265.8,375.5 L266.7,375.7 L267.6,375.7 L268.5,375.9 L269.4,375.7 L270.3,375.7 L271.2,375.7 L272.1,375.4 L272.5,375.4" fill="none" stroke="#26e2e2" stroke-width="2.0" stroke-linejoin="round"/>
<path d="M290.0,376.2 L290.9,376.0 L291.8,376.1 L292.7,375.9 L293.6,375.7 L294.5,375.9 L295.4,375.4 L296.3,375.4 L297.2,375.2 L298.1,374.7 L299.0,374.5 L299.9,374.2 L300.8,374.5 L301.7,374.4 L302.6,373.4 L303.5,373.1 L304.4,372.6 L305.3,372.6 L306.2,372.1 L307.1,371.6 L308.0,371.2 L308.9,370.8 L309.6,370.4 L310.7,369.0 L311.6,368.0 L312.5,368.9 L313.4,368.1 L314.3,367.7 L315.2,366.5 L316.1,364.8 L317.0,363.3 L317.9,364.7 L318.8,364.9 L319.7,364.7 L320.6,363.5 L321.5,362.3 L322.4,360.4 L323.3,359.1 L324.2,356.7 L325.0,354.6 L326.0,352.1 L326.9,351.6 L327.8,346.9 L328.7,348.3 L329.6,347.4 L330.5,344.6 L331.4,344.9 L332.3,343.1 L332.7,341.4 L333.2,339.8 L334.1,335.6 L335.0,335.1 L335.9,334.2 L336.7,332.0 L337.7,328.1 L338.6,325.7 L339.5,321.8 L340.4,316.3 L341.3,312.7 L342.2,309.8 L343.1,305.3 L343.5,302.5 L344.0,302.3 L344.9,302.9 L345.8,300.9 L346.7,299.6 L347.5,300.6 L348.5,296.1 L349.4,292.3 L350.3,291.7 L351.2,294.1 L351.5,288.7 L352.1,291.6 L353.0,288.6 L353.6,285.3 L354.8,288.9 L355.6,295.8 L356.6,300.9 L357.5,306.8 L358.3,313.6 L359.3,313.1 L360.2,315.5 L361.0,317.6 L362.0,323.4 L362.9,330.1 L363.7,334.6 L364.7,340.9 L365.6,345.9 L366.5,349.5 L367.4,352.7 L368.3,355.8 L369.0,357.4 L370.1,359.9 L371.0,363.5 L371.9,364.3 L372.7,366.4 L373.7,368.4 L374.6,368.3 L375.5,370.5 L376.4,369.9 L377.3,370.2 L378.0,370.8 L379.1,371.3 L380.0,372.1 L380.9,372.6 L381.8,373.5 L382.7,373.6 L383.5,373.9 L384.5,373.8 L385.4,374.4 L386.3,374.2 L387.2,374.2 L388.1,375.3 L389.0,375.0 L389.9,375.2 L390.8,375.5 L391.7,376.0 L392.6,375.6 L393.5,375.8 L394.4,376.0 L395.3,376.3 L396.2,376.0 L397.1,376.2 L398.0,376.1 L398.9,376.6 L399.8,376.3 L400.7,376.3 L401.6,376.4 L402.0,376.2 L402.5,376.4 L403.4,376.3 L404.3,376.8 L405.2,376.2 L406.1,375.9 L407.0,375.9 L407.9,375.5 L408.8,375.9 L409.7,375.9 L410.6,375.7 L411.5,376.1 L412.4,376.1 L413.3,376.4 L414.2,376.3 L415.1,376.2 L416.0,376.6 L416.9,376.3 L417.8,376.3 L418.7,376.4 L419.6,376.4 L420.5,376.4 L421.4,376.2 L422.3,376.5 L423.2,376.2 L424.1,376.3 L425.0,376.0 L425.9,376.3 L426.8,376.1 L427.7,376.0 L428.6,376.1 L429.5,375.8 L430.4,376.2 L431.3,376.2 L432.2,376.2 L433.1,376.5 L434.0,376.6 L434.9,376.6 L435.8,376.5 L436.7,376.7 L437.6,376.6 L438.5,376.4 L439.4,376.3 L440.3,376.2 L441.2,376.2 L442.1,376.5 L443.0,376.4 L443.9,376.2 L444.8,376.4 L445.7,376.4 L446.6,376.3 L447.5,376.5 L448.4,376.5 L449.3,376.3 L450.2,376.4 L451.1,376.2 L452.0,376.3 L452.9,375.9 L453.8,376.4 L454.7,376.5 L455.6,376.3 L456.5,376.5 L457.4,376.3 L458.3,376.3 L459.2,376.5 L460.1,376.6 L461.0,376.5 L461.9,376.5 L462.8,376.4 L463.7,376.2 L464.6,376.5 L465.5,376.4 L466.4,376.3 L467.3,376.5 L468.2,376.4 L469.1,376.4 L470.0,376.6 L470.9,376.5 L471.8,376.5 L472.7,376.5 L473.6,376.6 L474.5,376.7 L475.4,376.5 L476.3,376.5 L477.2,376.3 L478.1,376.3 L479.0,376.5 L479.9,376.5 L480.8,376.4 L481.7,376.5 L482.6,376.5 L483.5,376.7 L484.4,376.2 L485.3,376.4 L486.2,376.2 L487.1,376.5 L488.0,376.9 L488.9,376.5 L489.8,376.9 L490.7,376.5 L491.6,376.7 L492.5,376.5 L493.4,376.5 L494.3,376.5 L495.2,376.7 L496.1,376.8 L497.0,376.9 L497.9,376.8 L498.8,377.0 L499.7,376.8 L500.6,376.8 L501.5,376.7 L502.4,376.8 L503.3,376.9 L504.2,376.4 L505.1,376.6 L506.0,376.1 L506.9,376.1 L507.8,376.2 L508.7,376.2 L509.6,376.3 L510.5,376.5 L511.4,376.4 L512.0,376.6" fill="none" stroke="#6c6c6c" stroke-width="1.9" stroke-linejoin="round"/>
<path d="M290.0,376.2 L290.9,376.2 L291.8,375.9 L292.7,376.1 L293.6,376.2 L294.5,376.0 L295.4,375.9 L296.3,375.7 L297.2,375.9 L298.1,376.4 L299.0,376.1 L299.9,376.3 L300.8,375.9 L301.7,376.0 L302.6,375.6 L303.5,375.7 L304.4,375.6 L305.3,375.7 L306.2,375.7 L307.1,376.1 L308.0,376.3 L308.9,376.4 L309.8,376.2 L310.7,376.1 L311.6,376.1 L312.5,375.5 L313.4,375.4 L314.3,375.3 L315.2,375.4 L316.1,375.4 L317.0,375.7 L317.9,375.5 L318.8,376.1 L319.7,375.8 L320.6,376.0 L321.5,375.7 L322.4,375.9 L323.3,376.1 L324.2,376.5 L325.1,376.3 L326.0,376.6 L326.9,376.1 L327.8,376.4 L328.7,375.9 L329.6,375.6 L330.5,375.5 L331.4,375.9 L332.3,375.8 L333.2,375.9 L334.1,376.0 L335.0,376.1 L335.9,376.3 L336.8,375.9 L337.7,375.9 L338.6,375.8 L339.5,375.5 L340.4,375.8 L341.3,376.2 L342.2,375.6 L343.1,376.2 L344.0,375.7 L344.9,375.7 L345.8,375.7 L346.7,375.4 L347.6,375.6 L348.5,376.1 L349.4,375.9 L350.3,376.1 L351.2,375.7 L352.1,375.8 L353.0,376.1 L353.9,375.9 L354.8,375.5 L355.7,375.4 L356.6,375.8 L357.5,375.8 L358.4,375.4 L359.3,375.8 L360.2,375.6 L361.1,375.6 L362.0,375.6 L362.9,375.7 L363.8,375.4 L364.7,375.3 L365.6,375.8 L366.5,375.6 L367.4,375.5 L368.3,375.9 L369.2,375.8 L370.1,376.0 L371.0,376.5 L371.9,376.2 L372.8,375.3 L373.7,374.5 L374.6,374.1 L375.5,372.7 L376.4,371.9 L377.3,370.9 L378.2,370.4 L379.1,369.6 L380.0,368.3 L380.4,368.3 L380.9,367.4 L381.8,365.1 L382.7,362.9 L383.6,358.6 L384.5,356.7 L385.4,354.1 L386.0,352.7 L387.2,351.2 L388.1,348.3 L389.0,348.6 L389.9,343.2 L390.8,345.3 L391.7,341.8 L392.6,338.8 L393.5,338.0 L394.4,335.5 L395.3,333.2 L396.2,329.0 L397.1,321.8 L398.0,317.4 L398.9,314.2 L399.8,310.0 L400.7,304.5 L401.6,301.2 L402.5,293.1 L403.4,282.3 L403.7,281.7 L404.3,273.2 L404.8,267.5 L405.2,266.4 L406.1,260.9 L406.5,258.2 L407.0,255.5 L407.9,248.4 L408.3,243.9 L408.8,245.1 L409.7,249.6 L410.6,249.8 L411.5,254.8 L412.3,259.0 L413.3,265.9 L414.0,267.3 L415.1,280.4 L416.0,289.2 L416.9,304.1 L417.3,309.9 L417.8,315.4 L418.7,326.6 L419.6,337.7 L420.4,341.9 L421.4,348.1 L422.3,352.8 L423.2,355.7 L424.1,361.3 L425.0,363.3 L425.9,365.6 L426.8,367.9 L427.7,369.9 L428.6,371.3 L429.5,372.7 L430.4,372.3 L431.2,372.3 L432.2,373.3 L433.1,374.5 L434.0,374.4 L434.9,375.4 L435.8,375.1 L436.7,375.5 L437.6,375.8 L438.5,376.1 L438.8,376.3 L439.4,376.5 L440.3,376.3 L441.2,376.4 L442.1,376.5 L443.0,376.5 L443.9,376.7 L444.8,376.5 L445.7,376.2 L446.6,376.2 L447.5,375.9 L448.4,376.0 L449.3,375.7 L450.2,376.1 L451.1,376.2 L452.0,376.4 L452.9,376.4 L453.8,376.5 L454.7,376.5 L455.6,376.3 L456.5,376.5 L457.4,376.2 L458.3,376.4 L459.2,376.3 L460.1,376.0 L461.0,375.8 L461.9,376.2 L462.8,376.2 L463.7,376.5 L464.6,376.6 L465.5,376.8 L466.4,376.7 L467.3,376.4 L468.2,376.5 L469.1,376.8 L470.0,376.3 L470.9,376.4 L471.8,376.6 L472.7,376.5 L473.6,376.4 L474.5,376.5 L475.4,376.4 L476.3,376.6 L477.2,376.4 L478.1,376.4 L479.0,376.4 L479.9,376.0 L480.8,376.3 L481.7,376.4 L482.6,376.3 L483.5,376.2 L484.4,376.2 L485.3,376.4 L486.2,376.3 L487.1,376.1 L488.0,376.4 L488.9,376.2 L489.8,376.1 L490.7,375.9 L491.6,376.3 L492.5,376.2 L493.4,376.5 L494.3,376.7 L495.2,376.7 L496.1,376.4 L497.0,376.5 L497.9,376.7 L498.8,376.7 L499.7,376.5 L500.6,376.5 L501.5,376.8 L502.4,376.8 L503.3,376.6 L504.2,376.5 L505.1,376.6 L506.0,376.3 L506.9,376.5 L507.8,376.4 L508.7,376.5 L509.6,376.4 L510.5,376.2 L511.4,376.8 L512.0,376.6" fill="none" stroke="#e0141e" stroke-width="1.9" stroke-linejoin="round"/>
<path d="M290.0,376.2 L290.9,376.0 L291.8,375.8 L292.7,376.0 L293.6,375.9 L294.5,375.6 L295.4,376.1 L296.3,376.3 L297.2,376.4 L298.1,375.8 L299.0,376.0 L299.9,375.9 L300.8,375.8 L301.7,375.4 L302.6,375.7 L303.5,375.7 L304.4,376.0 L305.3,376.0 L306.2,376.1 L307.1,375.8 L308.0,375.8 L308.9,375.8 L309.8,376.1 L310.7,376.3 L311.6,376.0 L312.5,376.0 L313.4,376.2 L314.3,376.1 L315.2,375.7 L316.1,375.9 L317.0,375.5 L317.9,375.7 L318.8,375.3 L319.7,375.3 L320.6,375.2 L321.5,374.9 L322.4,375.0 L323.3,375.0 L324.2,375.1 L325.1,375.6 L326.0,375.4 L326.9,375.1 L327.8,374.7 L328.7,374.9 L329.6,374.4 L330.5,374.6 L331.4,374.6 L332.3,375.0 L333.2,374.7 L334.1,374.6 L335.0,374.2 L335.9,374.1 L336.8,374.3 L337.7,374.2 L338.6,373.5 L339.5,374.1 L340.4,374.2 L341.3,374.9 L342.2,373.7 L343.1,373.5 L344.0,373.0 L344.9,372.9 L345.8,372.2 L346.7,370.8 L347.6,370.8 L348.5,370.5 L349.4,368.6 L350.3,368.5 L351.2,367.6 L352.1,366.8 L352.7,366.6 L353.9,365.3 L354.8,363.4 L355.7,362.7 L356.6,362.1 L357.5,360.0 L358.4,359.2 L358.8,358.4 L359.3,358.6 L360.2,356.9 L361.1,356.2 L362.0,354.0 L362.9,351.1 L363.8,351.0 L364.7,348.0 L365.0,348.4 L365.6,345.6 L366.5,337.5 L367.4,332.2 L368.0,330.5 L369.2,325.1 L370.1,319.0 L370.4,319.2 L371.0,313.9 L371.7,306.1 L372.8,304.1 L373.7,306.4 L374.4,306.3 L375.5,300.4 L376.4,299.7 L377.3,296.9 L378.2,299.2 L378.5,298.9 L379.1,298.7 L380.0,300.8 L380.9,301.7 L381.2,300.7 L381.8,304.5 L382.7,307.3 L383.6,308.8 L384.5,309.7 L385.4,310.9 L386.3,311.7 L387.2,315.6 L388.1,318.9 L389.0,325.4 L389.9,326.3 L390.8,330.7 L391.7,331.4 L392.6,337.2 L393.5,341.4 L394.4,345.3 L395.3,348.4 L396.0,349.4 L397.1,353.0 L398.0,355.7 L398.9,358.3 L399.8,360.8 L400.7,360.4 L401.6,364.6 L402.5,365.1 L403.4,366.8 L404.3,369.2 L405.0,370.4 L406.1,370.9 L407.0,371.5 L407.9,373.2 L408.8,372.7 L409.7,373.9 L410.6,374.3 L411.5,374.7 L412.4,375.3 L413.3,375.2 L414.2,375.2 L415.1,375.4 L416.0,375.0 L416.9,375.2 L417.8,375.9 L418.7,376.1 L419.6,376.0 L420.5,375.9 L421.4,375.6 L422.3,375.6 L423.2,375.5 L424.1,375.2 L425.0,375.8 L425.9,375.9 L426.8,376.1 L427.7,375.7 L428.6,376.2 L429.5,376.0 L430.4,375.9 L431.3,376.1 L432.2,376.1 L433.1,375.8 L434.0,375.7 L434.9,375.7 L435.8,376.1 L436.7,376.4 L437.6,376.1 L438.5,376.4 L439.4,376.1 L440.3,376.3 L441.2,375.9 L442.1,376.2 L443.0,376.1 L443.9,376.0 L444.8,376.4 L445.7,376.4 L446.6,376.5 L447.5,376.1 L448.4,376.2 L449.3,375.9 L450.2,376.3 L451.1,376.1 L452.0,376.2 L452.9,375.9 L453.8,375.9 L454.7,376.2 L455.6,376.6 L456.5,376.1 L457.4,376.4 L458.3,376.4 L459.2,376.2 L460.1,376.5 L461.0,376.9 L461.9,376.5 L462.8,376.4 L463.7,376.3 L464.6,376.5 L465.5,376.6 L466.4,376.9 L467.3,376.8 L468.2,376.7 L469.1,376.3 L470.0,376.5 L470.9,376.1 L471.8,376.1 L472.7,376.1 L473.6,376.0 L474.5,376.3 L475.4,376.7 L476.3,376.5 L477.2,376.6 L478.1,376.1 L479.0,376.0 L479.9,376.4 L480.8,376.6 L481.7,376.5 L482.6,376.8 L483.5,376.7 L484.4,376.4 L485.3,376.1 L486.2,376.6 L487.1,376.4 L488.0,376.5 L488.9,376.7 L489.8,376.6 L490.7,376.9 L491.6,376.6 L492.5,376.8 L493.4,376.6 L494.3,376.7 L495.2,376.4 L496.1,376.4 L497.0,376.2 L497.9,376.2 L498.8,376.2 L499.7,376.5 L500.6,376.4 L501.5,376.8 L502.4,376.7 L503.3,376.6 L504.2,376.6 L505.1,376.8 L506.0,376.5 L506.9,376.7 L507.8,376.4 L508.7,376.7 L509.6,376.7 L510.5,376.7 L511.4,376.7 L512.0,376.4" fill="none" stroke="#24d824" stroke-width="1.9" stroke-linejoin="round"/>
<path d="M290.0,376.1 L290.9,376.1 L291.8,375.8 L292.7,376.0 L293.6,375.8 L294.5,376.4 L295.4,376.4 L296.3,376.5 L297.2,376.7 L298.1,376.5 L299.0,376.3 L299.9,376.6 L300.8,376.2 L301.7,376.5 L302.6,376.4 L303.5,376.5 L304.4,376.0 L305.3,376.1 L306.2,376.1 L307.1,376.0 L308.0,375.9 L308.9,376.2 L309.8,376.2 L310.7,376.1 L311.6,376.2 L312.5,375.9 L313.4,376.5 L314.3,376.3 L315.2,376.1 L316.1,376.2 L317.0,375.9 L317.9,375.9 L318.8,376.1 L319.7,376.1 L320.6,376.2 L321.5,376.4 L322.4,376.2 L323.3,376.5 L324.2,376.2 L325.1,376.4 L326.0,375.9 L326.9,375.8 L327.8,375.8 L328.7,375.5 L329.6,375.9 L330.5,375.9 L331.4,375.8 L332.3,375.8 L333.2,375.9 L334.1,375.5 L335.0,375.7 L335.9,375.8 L336.8,376.0 L337.7,376.3 L338.6,376.1 L339.5,375.8 L340.4,375.9 L341.3,375.8 L342.2,375.9 L343.1,375.8 L344.0,376.1 L344.9,375.9 L345.8,375.7 L346.7,375.7 L347.6,376.0 L348.5,375.8 L349.4,375.7 L350.3,375.9 L351.2,376.1 L352.1,375.8 L353.0,375.9 L353.9,375.7 L354.8,375.8 L355.7,375.4 L356.6,375.8 L357.5,375.7 L358.4,376.0 L359.3,376.2 L360.2,375.3 L361.1,376.0 L361.9,376.1 L362.9,375.5 L363.8,375.4 L364.7,375.3 L365.6,375.4 L366.5,374.9 L367.4,374.2 L368.3,373.8 L369.2,373.0 L370.1,372.7 L371.0,371.9 L371.9,370.8 L372.8,370.8 L373.7,369.6 L374.2,369.5 L374.6,368.0 L375.5,368.5 L376.4,367.8 L377.3,365.4 L378.2,363.3 L379.1,361.1 L380.0,361.2 L380.9,357.5 L381.8,354.7 L382.7,349.7 L383.2,346.2 L383.6,346.6 L384.5,346.1 L385.4,344.9 L386.3,344.6 L387.2,340.0 L388.1,335.6 L389.0,325.6 L389.9,322.5 L390.8,315.8 L391.2,313.8 L391.7,310.1 L392.6,300.2 L393.3,292.5 L394.4,279.4 L395.3,273.9 L396.2,264.7 L396.7,261.2 L397.1,256.8 L398.0,249.5 L398.5,245.7 L398.9,250.6 L399.8,244.9 L400.7,242.9 L401.3,242.0 L402.5,240.5 L403.4,237.0 L404.0,239.1 L405.2,241.5 L405.5,244.1 L406.1,254.5 L406.5,259.1 L407.0,263.6 L407.9,272.9 L408.3,277.8 L408.8,279.7 L409.6,288.4 L410.6,298.9 L411.5,310.3 L412.4,319.2 L412.7,324.0 L413.3,327.7 L414.2,336.2 L415.1,343.1 L415.8,347.0 L416.9,352.6 L417.8,358.9 L418.7,362.1 L419.6,365.7 L420.4,366.5 L421.4,367.1 L422.3,370.1 L423.2,371.5 L424.1,373.2 L425.0,373.6 L425.9,373.7 L426.5,374.6 L427.7,374.6 L428.6,374.9 L429.5,375.0 L430.4,375.1 L431.3,375.7 L432.2,375.3 L433.1,375.1 L434.0,376.0 L434.9,375.8 L435.8,376.1 L436.7,376.7 L437.6,376.6 L438.5,376.2 L439.4,376.5 L440.0,376.4 L441.2,376.4 L442.1,376.1 L443.0,376.4 L443.9,376.0 L444.8,376.2 L445.7,376.2 L446.6,376.2 L447.5,376.0 L448.4,376.4 L449.3,376.2 L450.2,376.2 L451.1,376.3 L452.0,376.5 L452.9,376.4 L453.8,376.2 L454.7,376.0 L455.6,376.3 L456.5,376.3 L457.4,376.5 L458.3,376.6 L459.2,376.6 L460.1,376.6 L461.0,376.7 L461.9,376.5 L462.8,376.0 L463.7,376.1 L464.6,376.3 L465.5,376.2 L466.4,376.1 L467.3,376.4 L468.2,376.4 L469.1,376.7 L470.0,376.6 L470.9,376.4 L471.8,376.5 L472.7,376.3 L473.6,376.5 L474.5,376.4 L475.4,376.8 L476.3,376.6 L477.2,376.4 L478.1,376.5 L479.0,376.4 L479.9,376.5 L480.8,376.3 L481.7,376.1 L482.6,376.2 L483.5,376.1 L484.4,376.1 L485.3,376.0 L486.2,376.4 L487.1,376.0 L488.0,376.2 L488.9,376.5 L489.8,376.7 L490.7,376.9 L491.6,376.6 L492.5,376.5 L493.4,376.4 L494.3,376.4 L495.2,376.5 L496.1,376.5 L497.0,376.6 L497.9,376.6 L498.8,376.2 L499.7,376.2 L500.6,376.4 L501.5,376.3 L502.4,376.4 L503.3,376.4 L504.2,376.4 L505.1,376.5 L506.0,376.6 L506.9,376.4 L507.8,376.5 L508.7,376.5 L509.6,376.4 L510.5,376.3 L511.4,376.6 L512.0,376.5" fill="none" stroke="#0c0cc0" stroke-width="1.9" stroke-linejoin="round"/>
<path d="M290.0,374.7 L290.9,374.9 L291.8,375.3 L292.7,375.6 L293.6,375.7 L294.5,375.5 L295.4,375.4 L296.3,375.5 L297.2,375.4 L298.1,375.2 L299.0,375.8 L299.9,375.1 L300.8,375.6 L301.7,375.4 L302.6,374.9 L303.5,375.7 L304.4,374.9 L305.3,374.4 L306.2,375.1 L307.1,374.2 L308.0,374.1 L308.9,374.6 L309.8,374.0 L310.7,374.1 L311.6,374.6 L312.5,374.6 L313.4,374.2 L314.3,374.0 L315.2,373.9 L316.1,374.4 L317.0,374.6 L317.9,374.3 L318.8,373.9 L319.7,373.6 L320.6,372.5 L321.5,372.8 L322.4,372.3 L323.3,372.9 L324.2,372.9 L325.1,373.6 L326.0,374.2 L326.9,373.9 L327.8,373.5 L328.7,373.6 L329.6,373.1 L330.5,372.7 L331.4,372.2 L332.3,373.0 L333.2,372.4 L334.1,371.7 L335.0,371.1 L335.9,370.7 L336.8,371.4 L337.7,371.2 L338.6,370.8 L339.5,370.9 L340.4,371.8 L341.3,371.3 L342.2,370.9 L343.1,370.6 L344.0,371.2 L344.9,370.6 L345.8,369.1 L346.5,368.1 L347.6,369.0 L348.5,368.7 L349.4,368.5 L350.3,367.8 L351.2,365.9 L352.1,366.7 L353.0,365.1 L353.9,365.3 L354.8,363.7 L355.7,362.4 L356.6,360.9 L357.5,360.2 L358.4,359.6 L359.3,358.0 L360.2,357.9 L361.1,355.9 L362.0,355.1 L362.9,352.5 L363.8,350.7 L364.7,349.0 L365.6,348.3 L366.5,350.5 L367.4,351.2 L367.7,349.3 L368.3,348.5 L369.2,346.7 L370.1,342.3 L371.0,338.4 L371.9,334.4 L372.8,335.2 L373.7,330.6 L374.6,327.1 L375.5,323.0 L375.8,322.1 L376.4,320.0 L377.3,315.3 L378.2,310.5 L378.5,309.8 L379.1,305.1 L380.0,301.8 L380.9,302.2 L381.2,301.8 L381.8,305.1 L382.7,302.1 L383.6,306.6 L384.5,307.5 L385.4,310.3 L386.3,313.3 L387.2,316.6 L388.1,321.4 L389.0,324.7 L389.9,327.7 L390.8,332.1 L391.7,333.0 L392.6,335.7 L393.5,341.4 L394.4,341.7 L395.3,348.5 L396.0,350.0 L397.1,350.2 L398.0,352.1 L398.9,355.4 L399.8,358.3 L400.7,362.6 L401.6,364.4 L402.0,364.4 L402.5,366.2 L403.4,366.0 L404.3,368.3 L405.2,369.2 L406.1,370.0 L407.0,370.8 L407.9,371.3 L408.8,371.1 L409.7,371.3 L410.6,372.8 L411.5,374.1 L412.4,374.4 L413.3,374.9 L414.2,375.0 L415.1,375.0 L416.0,375.1 L416.9,375.3 L417.8,374.8 L418.7,375.5 L419.6,375.0 L420.5,375.4 L421.4,374.5 L422.3,374.7 L423.2,375.2 L424.1,375.2 L425.0,375.6 L425.9,375.4 L426.8,376.2 L427.7,375.8 L428.6,375.6 L429.5,376.1 L430.0,375.9 L430.4,376.0 L431.3,376.0 L432.2,375.9 L433.1,375.7 L434.0,375.8 L434.9,375.8 L435.8,375.5 L436.7,375.8 L437.6,375.8 L438.5,376.0 L439.4,376.2 L440.3,376.2 L441.2,376.5 L442.1,376.2 L443.0,376.3 L443.9,376.5 L444.8,376.3 L445.7,376.5 L446.6,376.5 L447.5,376.3 L448.4,376.3 L449.3,376.2 L450.0,376.1 L451.1,376.5 L452.0,376.8 L452.9,376.4 L453.8,376.5 L454.7,376.4 L455.6,376.2 L456.5,376.3 L457.4,376.4 L458.3,376.3 L459.2,376.3 L460.1,376.4 L461.0,376.2 L461.9,376.2 L462.8,376.5 L463.7,376.5 L464.6,376.5 L465.5,376.7 L466.4,376.2 L467.3,376.1 L468.2,376.3 L469.1,376.3 L470.0,376.1 L470.9,376.2 L471.8,376.2 L472.7,376.5 L473.6,376.4 L474.5,376.5 L475.4,376.5 L476.3,376.7 L477.2,376.6 L478.1,376.7 L479.0,376.7 L479.9,376.5 L480.8,376.5 L481.7,377.0 L482.6,376.7 L483.5,376.9 L484.4,376.8 L485.3,376.7 L486.2,376.8 L487.1,376.5 L488.0,376.5 L488.9,376.6 L489.8,376.4 L490.7,376.6 L491.6,376.5 L492.5,376.5 L493.4,376.7 L494.3,376.9 L495.2,377.0 L496.1,376.6 L497.0,376.6 L497.9,376.5 L498.8,376.7 L499.7,376.7 L500.6,376.7 L501.5,376.6 L502.4,376.3 L503.3,376.4 L504.2,376.4 L505.1,376.6 L506.0,376.6 L506.9,376.5 L507.8,376.5 L508.7,376.3 L509.6,376.4 L510.5,376.5 L511.4,376.3 L512.0,376.6" fill="none" stroke="#26e2e2" stroke-width="1.9" stroke-linejoin="round"/>
<text x="1.60" y="452.2" font-size="24.2" font-weight="bold" fill="#000" textLength="13.94" lengthAdjust="spacingAndGlyphs" stroke="#000" stroke-width="0.8">B</text>
<text x="0" y="0" font-size="17.5" font-weight="bold" fill="#000" textLength="254.40" lengthAdjust="spacingAndGlyphs" transform="translate(15.2,750.10) rotate(-90)">% of Maximum MMP-9 Release</text>
<line x1="57.8" y1="465" x2="57.8" y2="790" stroke="#000" stroke-width="2.4"/>
<line x1="56.5" y1="789" x2="511" y2="789" stroke="#000" stroke-width="2"/>
<line x1="53.5" y1="789.0" x2="57.5" y2="789.0" stroke="#000" stroke-width="1.3"/>
<text x="46" y="793.3" font-size="12.2" text-anchor="end" fill="#111" >0</text>
<line x1="53.5" y1="735.2" x2="57.5" y2="735.2" stroke="#000" stroke-width="1.3"/>
<text x="46" y="739.5" font-size="12.2" text-anchor="end" fill="#111" >20</text>
<line x1="53.5" y1="681.4" x2="57.5" y2="681.4" stroke="#000" stroke-width="1.3"/>
<text x="46" y="685.7" font-size="12.2" text-anchor="end" fill="#111" >40</text>
<line x1="53.5" y1="627.6" x2="57.5" y2="627.6" stroke="#000" stroke-width="1.3"/>
<text x="46" y="631.9" font-size="12.2" text-anchor="end" fill="#111" >60</text>
<line x1="53.5" y1="573.8" x2="57.5" y2="573.8" stroke="#000" stroke-width="1.3"/>
<text x="46" y="578.1" font-size="12.2" text-anchor="end" fill="#111" >80</text>
<line x1="53.5" y1="520.0" x2="57.5" y2="520.0" stroke="#000" stroke-width="1.3"/>
<text x="46" y="524.3" font-size="12.2" text-anchor="end" fill="#111" >100</text>
<line x1="53.5" y1="466.2" x2="57.5" y2="466.2" stroke="#000" stroke-width="1.3"/>
<text x="46" y="470.5" font-size="12.2" text-anchor="end" fill="#111" >120</text>
<rect x="75.4" y="474" width="28.6" height="9.2" fill="#000"/>
<rect x="75.9" y="490.5" width="27.6" height="8.2" fill="#c9c9c9" stroke="#777" stroke-width="1"/>
<rect x="75.9" y="505.5" width="27.6" height="8.5" fill="#616161" stroke="#444" stroke-width="1"/>
<text x="111.3" y="482.3" font-size="12.4" text-anchor="start" fill="#111" >Basal</text>
<text x="111.3" y="498.2" font-size="12.4" text-anchor="start" fill="#111" >ATP</text>
<text x="111.3" y="514.1" font-size="12.4" text-anchor="start" fill="#111" >PMA</text>
<line x1="82.0" y1="734" x2="82.0" y2="740" stroke="#000" stroke-width="1.8"/>
<line x1="74.0" y1="734" x2="90.0" y2="734" stroke="#000" stroke-width="1.8"/>
<rect x="67" y="740" width="30" height="48" fill="#000"/>
<line x1="113.75" y1="674" x2="113.75" y2="678.5" stroke="#000" stroke-width="1.8"/>
<line x1="105.75" y1="674" x2="121.75" y2="674" stroke="#000" stroke-width="1.8"/>
<rect x="99.0" y="679.0" width="29.5" height="109.5" fill="#c8c8c8" stroke="#5a5a5a" stroke-width="1"/>
<rect x="100.0" y="680.0" width="27.5" height="107.5" fill="none" stroke="#e6e6e6" stroke-width="1"/>
<line x1="145.75" y1="556.5" x2="145.75" y2="577" stroke="#000" stroke-width="1.8"/>
<line x1="137.75" y1="556.5" x2="153.75" y2="556.5" stroke="#000" stroke-width="1.8"/>
<rect x="131.4" y="577.5" width="28.69999999999999" height="211" fill="#616161" stroke="#383838" stroke-width="1"/>
<line x1="193.8" y1="735.5" x2="193.8" y2="738.6" stroke="#000" stroke-width="1.8"/>
<line x1="185.8" y1="735.5" x2="201.8" y2="735.5" stroke="#000" stroke-width="1.8"/>
<rect x="178.8" y="738.6" width="30.0" height="49.39999999999998" fill="#000"/>
<line x1="225.6" y1="654.8" x2="225.6" y2="671.8" stroke="#000" stroke-width="1.8"/>
<line x1="217.6" y1="654.8" x2="233.6" y2="654.8" stroke="#000" stroke-width="1.8"/>
<rect x="211.1" y="672.3" width="29.0" height="116.20000000000005" fill="#c8c8c8" stroke="#5a5a5a" stroke-width="1"/>
<rect x="212.1" y="673.3" width="27.0" height="114.20000000000005" fill="none" stroke="#e6e6e6" stroke-width="1"/>
<line x1="257.95" y1="537.3" x2="257.95" y2="545.7" stroke="#000" stroke-width="1.8"/>
<line x1="249.95" y1="537.3" x2="265.95" y2="537.3" stroke="#000" stroke-width="1.8"/>
<rect x="243.6" y="546.2" width="28.700000000000017" height="242.29999999999995" fill="#616161" stroke="#383838" stroke-width="1"/>
<line x1="306.4" y1="739" x2="306.4" y2="744.8" stroke="#000" stroke-width="1.8"/>
<line x1="298.4" y1="739" x2="314.4" y2="739" stroke="#000" stroke-width="1.8"/>
<rect x="291.4" y="744.8" width="30.0" height="43.200000000000045" fill="#000"/>
<line x1="338.70000000000005" y1="689" x2="338.70000000000005" y2="695" stroke="#000" stroke-width="1.8"/>
<line x1="330.70000000000005" y1="689" x2="346.70000000000005" y2="689" stroke="#000" stroke-width="1.8"/>
<rect x="324.1" y="695.5" width="29.19999999999999" height="93" fill="#c8c8c8" stroke="#5a5a5a" stroke-width="1"/>
<rect x="325.1" y="696.5" width="27.19999999999999" height="91" fill="none" stroke="#e6e6e6" stroke-width="1"/>
<line x1="370.29999999999995" y1="524.6" x2="370.29999999999995" y2="529.2" stroke="#000" stroke-width="1.8"/>
<line x1="362.29999999999995" y1="524.6" x2="378.29999999999995" y2="524.6" stroke="#000" stroke-width="1.8"/>
<rect x="355.9" y="529.7" width="28.80000000000001" height="258.79999999999995" fill="#616161" stroke="#383838" stroke-width="1"/>
<line x1="418.7" y1="687.5" x2="418.7" y2="698.6" stroke="#000" stroke-width="1.8"/>
<line x1="410.7" y1="687.5" x2="426.7" y2="687.5" stroke="#000" stroke-width="1.8"/>
<rect x="403.7" y="698.6" width="30.0" height="89.39999999999998" fill="#000"/>
<line x1="450.5" y1="629.8" x2="450.5" y2="652.9" stroke="#000" stroke-width="1.8"/>
<line x1="442.5" y1="629.8" x2="458.5" y2="629.8" stroke="#000" stroke-width="1.8"/>
<rect x="436.0" y="653.4" width="29.0" height="135.10000000000002" fill="#c8c8c8" stroke="#5a5a5a" stroke-width="1"/>
<rect x="437.0" y="654.4" width="27.0" height="133.10000000000002" fill="none" stroke="#e6e6e6" stroke-width="1"/>
<line x1="482.4" y1="545.8" x2="482.4" y2="556.9" stroke="#000" stroke-width="1.8"/>
<line x1="474.4" y1="545.8" x2="490.4" y2="545.8" stroke="#000" stroke-width="1.8"/>
<rect x="467.9" y="557.4" width="29.0" height="231.10000000000002" fill="#616161" stroke="#383838" stroke-width="1"/>
<path d="M75.4,616.6 L75.4,606 L115.5,606 L115.5,616.6" fill="none" stroke="#111" stroke-width="1.6"/>
<path d="M184.6,614 L184.6,603.8 L224.3,603.8 L224.3,614" fill="none" stroke="#111" stroke-width="1.6"/>
<path d="M298.8,609.5 L298.8,599.8 L338.6,599.8 L338.6,609.5" fill="none" stroke="#111" stroke-width="1.6"/>
<path d="M409.2,607 L409.2,597.5 L448.9,597.5 L448.9,607" fill="none" stroke="#111" stroke-width="1.6"/>
<text x="72.60" y="599.8" font-size="12.4" fill="#111" textLength="45.91" lengthAdjust="spacing"><tspan font-style="italic">P</tspan> &lt; .001</text>
<text x="182.40" y="597" font-size="12.4" fill="#111" textLength="46.31" lengthAdjust="spacing"><tspan font-style="italic">P</tspan> = .027</text>
<text x="295.20" y="591.3" font-size="12.4" fill="#111" textLength="45.28" lengthAdjust="spacing"><tspan font-style="italic">P</tspan> =.002</text>
<text x="405.50" y="588.9" font-size="12.4" fill="#111" textLength="44.28" lengthAdjust="spacing"><tspan font-style="italic">P</tspan> =.038</text>
<text x="113.7" y="810.3" font-size="15.4" font-weight="bold" text-anchor="middle" fill="#000" >Control</text>
<text x="226.8" y="810.3" font-size="15.4" font-weight="bold" text-anchor="middle" fill="#000" >Brefeldin A</text>
<text x="338.7" y="810.3" font-size="15.4" font-weight="bold" text-anchor="middle" fill="#000" >Monensin</text>
<text x="450" y="810.3" font-size="15.4" font-weight="bold" text-anchor="middle" fill="#000" >Cycloheximide</text>
</svg></body></html>
